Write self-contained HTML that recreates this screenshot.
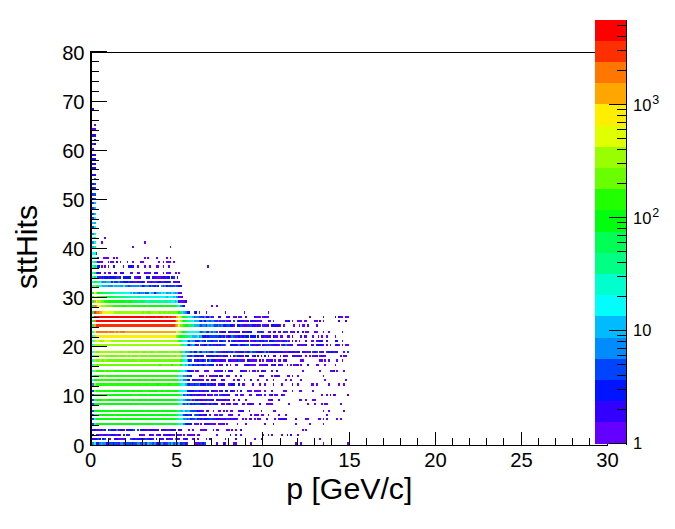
<!DOCTYPE html>
<html><head><meta charset="utf-8"><title>sttHits vs p</title>
<style>
html,body{margin:0;padding:0;background:#fff;}
#c{position:relative;width:675px;height:529px;overflow:hidden;background:#fff;font-family:"Liberation Sans",sans-serif;color:#000;}
.t{position:absolute;line-height:22px;white-space:nowrap;}
.e{font-size:12.5px;position:relative;top:-7.2px;left:1px;}
#xt,#yt{line-height:34px;}
</style></head><body><div id="c"><svg width="675" height="529" viewBox="0 0 675 529" style="position:absolute;left:0;top:0"><rect x="90" y="52" width="505" height="1"/><g shape-rendering="crispEdges"><rect x="104" y="237" width="2" height="2" fill="#6300ff"/><rect x="101" y="241" width="2" height="3" fill="#6300ff"/><rect x="144" y="241" width="2" height="3" fill="#6300ff"/><rect x="132" y="246" width="2" height="2" fill="#6300ff"/><rect x="170" y="246" width="1" height="2" fill="#6300ff"/><rect x="207" y="265" width="2" height="3" fill="#6300ff"/><rect x="103" y="257" width="6" height="2" fill="#6300ff"/><rect x="113" y="257" width="2" height="2" fill="#6300ff"/><rect x="116" y="257" width="2" height="2" fill="#6300ff"/><rect x="144" y="257" width="2" height="2" fill="#6300ff"/><rect x="147" y="257" width="2" height="2" fill="#6300ff"/><rect x="156" y="257" width="2" height="2" fill="#6300ff"/><rect x="166" y="257" width="2" height="2" fill="#6300ff"/><rect x="170" y="257" width="1" height="2" fill="#6300ff"/><rect x="99" y="261" width="4" height="2" fill="#6300ff"/><rect x="108" y="261" width="1" height="2" fill="#6300ff"/><rect x="110" y="261" width="4" height="2" fill="#6300ff"/><rect x="116" y="261" width="2" height="2" fill="#3300ff"/><rect x="120" y="261" width="1" height="2" fill="#6300ff"/><rect x="127" y="261" width="1" height="2" fill="#6300ff"/><rect x="132" y="261" width="2" height="2" fill="#6300ff"/><rect x="140" y="261" width="4" height="2" fill="#6300ff"/><rect x="158" y="261" width="2" height="2" fill="#6300ff"/><rect x="163" y="261" width="1" height="2" fill="#6300ff"/><rect x="166" y="261" width="5" height="2" fill="#6300ff"/><rect x="173" y="261" width="2" height="2" fill="#6300ff"/><rect x="99" y="265" width="1" height="3" fill="#3300ff"/><rect x="101" y="265" width="2" height="3" fill="#6300ff"/><rect x="104" y="265" width="2" height="3" fill="#6300ff"/><rect x="108" y="265" width="1" height="3" fill="#6300ff"/><rect x="113" y="265" width="2" height="3" fill="#0014ff"/><rect x="123" y="265" width="1" height="3" fill="#6300ff"/><rect x="128" y="265" width="3" height="3" fill="#0014ff"/><rect x="131" y="265" width="3" height="3" fill="#3300ff"/><rect x="137" y="265" width="2" height="3" fill="#6300ff"/><rect x="144" y="265" width="2" height="3" fill="#6300ff"/><rect x="149" y="265" width="2" height="3" fill="#6300ff"/><rect x="156" y="265" width="3" height="3" fill="#6300ff"/><rect x="163" y="265" width="1" height="3" fill="#6300ff"/><rect x="168" y="265" width="2" height="3" fill="#6300ff"/><rect x="97" y="272" width="4" height="2" fill="#3300ff"/><rect x="104" y="272" width="2" height="2" fill="#6300ff"/><rect x="108" y="272" width="3" height="2" fill="#6300ff"/><rect x="114" y="272" width="3" height="2" fill="#3300ff"/><rect x="120" y="272" width="4" height="2" fill="#3300ff"/><rect x="130" y="272" width="3" height="2" fill="#6300ff"/><rect x="137" y="272" width="3" height="2" fill="#6300ff"/><rect x="144" y="272" width="7" height="2" fill="#6300ff"/><rect x="154" y="272" width="4" height="2" fill="#3300ff"/><rect x="163" y="272" width="1" height="2" fill="#6300ff"/><rect x="166" y="272" width="5" height="2" fill="#6300ff"/><rect x="175" y="272" width="2" height="2" fill="#6300ff"/><rect x="178" y="272" width="2" height="2" fill="#6300ff"/><rect x="98" y="276" width="4" height="3" fill="#6300ff"/><rect x="102" y="276" width="1" height="3" fill="#3300ff"/><rect x="103" y="276" width="1" height="3" fill="#0044ff"/><rect x="104" y="276" width="4" height="3" fill="#0014ff"/><rect x="108" y="276" width="1" height="3" fill="#6300ff"/><rect x="109" y="276" width="2" height="3" fill="#0014ff"/><rect x="111" y="276" width="3" height="3" fill="#0014ff"/><rect x="114" y="276" width="2" height="3" fill="#3300ff"/><rect x="116" y="276" width="3" height="3" fill="#0044ff"/><rect x="119" y="276" width="1" height="3" fill="#6300ff"/><rect x="120" y="276" width="1" height="3" fill="#3300ff"/><rect x="123" y="276" width="4" height="3" fill="#0014ff"/><rect x="127" y="276" width="2" height="3" fill="#0014ff"/><rect x="129" y="276" width="2" height="3" fill="#0014ff"/><rect x="134" y="276" width="1" height="3" fill="#0044ff"/><rect x="135" y="276" width="3" height="3" fill="#6300ff"/><rect x="138" y="276" width="3" height="3" fill="#3300ff"/><rect x="146" y="276" width="2" height="3" fill="#0014ff"/><rect x="148" y="276" width="2" height="3" fill="#0014ff"/><rect x="152" y="276" width="4" height="3" fill="#3300ff"/><rect x="156" y="276" width="4" height="3" fill="#6300ff"/><rect x="160" y="276" width="1" height="3" fill="#6300ff"/><rect x="161" y="276" width="4" height="3" fill="#3300ff"/><rect x="165" y="276" width="1" height="3" fill="#3300ff"/><rect x="166" y="276" width="1" height="3" fill="#6300ff"/><rect x="167" y="276" width="3" height="3" fill="#0014ff"/><rect x="171" y="276" width="2" height="3" fill="#0014ff"/><rect x="173" y="276" width="1" height="3" fill="#0044ff"/><rect x="174" y="276" width="1" height="3" fill="#6300ff"/><rect x="177" y="276" width="1" height="3" fill="#0014ff"/><rect x="90" y="442" width="4" height="3" fill="#008bff"/><rect x="94" y="442" width="2" height="3" fill="#00fffc"/><rect x="96" y="442" width="3" height="3" fill="#0014ff"/><rect x="99" y="442" width="2" height="3" fill="#008bff"/><rect x="101" y="442" width="1" height="3" fill="#00bbff"/><rect x="102" y="442" width="4" height="3" fill="#008bff"/><rect x="106" y="442" width="2" height="3" fill="#3300ff"/><rect x="108" y="442" width="5" height="3" fill="#0044ff"/><rect x="113" y="442" width="1" height="3" fill="#3300ff"/><rect x="114" y="442" width="4" height="3" fill="#0044ff"/><rect x="118" y="442" width="2" height="3" fill="#6300ff"/><rect x="120" y="442" width="3" height="3" fill="#008bff"/><rect x="123" y="442" width="2" height="3" fill="#0044ff"/><rect x="125" y="442" width="1" height="3" fill="#008bff"/><rect x="126" y="442" width="6" height="3" fill="#0044ff"/><rect x="132" y="442" width="1" height="3" fill="#3300ff"/><rect x="133" y="442" width="4" height="3" fill="#0044ff"/><rect x="137" y="442" width="3" height="3" fill="#008bff"/><rect x="140" y="442" width="2" height="3" fill="#0044ff"/><rect x="142" y="442" width="3" height="3" fill="#008bff"/><rect x="145" y="442" width="2" height="3" fill="#0014ff"/><rect x="147" y="442" width="2" height="3" fill="#00bbff"/><rect x="149" y="442" width="3" height="3" fill="#008bff"/><rect x="152" y="442" width="2" height="3" fill="#0044ff"/><rect x="154" y="442" width="2" height="3" fill="#008bff"/><rect x="156" y="442" width="1" height="3" fill="#6300ff"/><rect x="157" y="442" width="2" height="3" fill="#0014ff"/><rect x="159" y="442" width="2" height="3" fill="#0044ff"/><rect x="161" y="442" width="2" height="3" fill="#008bff"/><rect x="163" y="442" width="1" height="3" fill="#0044ff"/><rect x="164" y="442" width="2" height="3" fill="#6300ff"/><rect x="166" y="442" width="2" height="3" fill="#0044ff"/><rect x="168" y="442" width="2" height="3" fill="#008bff"/><rect x="170" y="442" width="1" height="3" fill="#0044ff"/><rect x="171" y="442" width="2" height="3" fill="#00bbff"/><rect x="173" y="442" width="2" height="3" fill="#0044ff"/><rect x="175" y="442" width="1" height="3" fill="#008bff"/><rect x="176" y="442" width="2" height="3" fill="#0044ff"/><rect x="178" y="442" width="2" height="3" fill="#00bbff"/><rect x="180" y="442" width="2" height="3" fill="#0014ff"/><rect x="182" y="442" width="3" height="3" fill="#0044ff"/><rect x="185" y="442" width="2" height="3" fill="#3300ff"/><rect x="187" y="442" width="1" height="3" fill="#6300ff"/><rect x="194" y="442" width="1" height="3" fill="#3300ff"/><rect x="195" y="442" width="5" height="3" fill="#6300ff"/><rect x="200" y="442" width="2" height="3" fill="#0044ff"/><rect x="202" y="442" width="2" height="3" fill="#3300ff"/><rect x="204" y="442" width="2" height="3" fill="#0044ff"/><rect x="216" y="442" width="2" height="3" fill="#6300ff"/><rect x="223" y="442" width="2" height="3" fill="#3300ff"/><rect x="225" y="442" width="1" height="3" fill="#6300ff"/><rect x="233" y="442" width="4" height="3" fill="#6300ff"/><rect x="250" y="442" width="2" height="3" fill="#6300ff"/><rect x="295" y="442" width="2" height="3" fill="#6300ff"/><rect x="300" y="442" width="2" height="3" fill="#6300ff"/><rect x="323" y="442" width="1" height="3" fill="#6300ff"/><rect x="347" y="442" width="2" height="3" fill="#6300ff"/><rect x="90" y="438" width="6" height="2" fill="#3300ff"/><rect x="96" y="438" width="1" height="2" fill="#0014ff"/><rect x="97" y="438" width="2" height="2" fill="#0044ff"/><rect x="99" y="438" width="2" height="2" fill="#3300ff"/><rect x="102" y="438" width="2" height="2" fill="#0014ff"/><rect x="104" y="438" width="2" height="2" fill="#0044ff"/><rect x="109" y="438" width="2" height="2" fill="#6300ff"/><rect x="114" y="438" width="2" height="2" fill="#3300ff"/><rect x="116" y="438" width="2" height="2" fill="#0014ff"/><rect x="118" y="438" width="7" height="2" fill="#6300ff"/><rect x="125" y="438" width="1" height="2" fill="#3300ff"/><rect x="130" y="438" width="2" height="2" fill="#0044ff"/><rect x="132" y="438" width="1" height="2" fill="#6300ff"/><rect x="133" y="438" width="2" height="2" fill="#0014ff"/><rect x="135" y="438" width="2" height="2" fill="#6300ff"/><rect x="137" y="438" width="2" height="2" fill="#0014ff"/><rect x="139" y="438" width="5" height="2" fill="#3300ff"/><rect x="144" y="438" width="1" height="2" fill="#6300ff"/><rect x="145" y="438" width="2" height="2" fill="#0044ff"/><rect x="147" y="438" width="2" height="2" fill="#6300ff"/><rect x="149" y="438" width="3" height="2" fill="#0014ff"/><rect x="152" y="438" width="2" height="2" fill="#6300ff"/><rect x="156" y="438" width="1" height="2" fill="#0014ff"/><rect x="159" y="438" width="2" height="2" fill="#6300ff"/><rect x="161" y="438" width="2" height="2" fill="#3300ff"/><rect x="163" y="438" width="1" height="2" fill="#6300ff"/><rect x="166" y="438" width="2" height="2" fill="#3300ff"/><rect x="168" y="438" width="2" height="2" fill="#6300ff"/><rect x="170" y="438" width="1" height="2" fill="#3300ff"/><rect x="171" y="438" width="2" height="2" fill="#6300ff"/><rect x="175" y="438" width="1" height="2" fill="#008bff"/><rect x="176" y="438" width="2" height="2" fill="#3300ff"/><rect x="178" y="438" width="2" height="2" fill="#6300ff"/><rect x="183" y="438" width="2" height="2" fill="#6300ff"/><rect x="185" y="438" width="2" height="2" fill="#0014ff"/><rect x="187" y="438" width="1" height="2" fill="#6300ff"/><rect x="192" y="438" width="3" height="2" fill="#6300ff"/><rect x="197" y="438" width="2" height="2" fill="#6300ff"/><rect x="206" y="438" width="1" height="2" fill="#6300ff"/><rect x="209" y="438" width="2" height="2" fill="#3300ff"/><rect x="225" y="438" width="1" height="2" fill="#6300ff"/><rect x="235" y="438" width="2" height="2" fill="#3300ff"/><rect x="254" y="438" width="2" height="2" fill="#6300ff"/><rect x="261" y="438" width="1" height="2" fill="#3300ff"/><rect x="319" y="438" width="2" height="2" fill="#6300ff"/><rect x="90" y="434" width="4" height="2" fill="#3300ff"/><rect x="96" y="434" width="8" height="2" fill="#6300ff"/><rect x="104" y="434" width="2" height="2" fill="#3300ff"/><rect x="106" y="434" width="2" height="2" fill="#6300ff"/><rect x="108" y="434" width="1" height="2" fill="#0044ff"/><rect x="109" y="434" width="2" height="2" fill="#6300ff"/><rect x="111" y="434" width="2" height="2" fill="#0014ff"/><rect x="113" y="434" width="3" height="2" fill="#3300ff"/><rect x="116" y="434" width="2" height="2" fill="#6300ff"/><rect x="118" y="434" width="2" height="2" fill="#3300ff"/><rect x="120" y="434" width="1" height="2" fill="#6300ff"/><rect x="123" y="434" width="2" height="2" fill="#3300ff"/><rect x="126" y="434" width="2" height="2" fill="#0014ff"/><rect x="128" y="434" width="2" height="2" fill="#6300ff"/><rect x="139" y="434" width="1" height="2" fill="#3300ff"/><rect x="140" y="434" width="5" height="2" fill="#6300ff"/><rect x="149" y="434" width="2" height="2" fill="#3300ff"/><rect x="151" y="434" width="3" height="2" fill="#6300ff"/><rect x="156" y="434" width="3" height="2" fill="#6300ff"/><rect x="159" y="434" width="2" height="2" fill="#3300ff"/><rect x="163" y="434" width="1" height="2" fill="#6300ff"/><rect x="164" y="434" width="7" height="2" fill="#3300ff"/><rect x="171" y="434" width="4" height="2" fill="#6300ff"/><rect x="176" y="434" width="2" height="2" fill="#3300ff"/><rect x="178" y="434" width="4" height="2" fill="#6300ff"/><rect x="183" y="434" width="2" height="2" fill="#6300ff"/><rect x="187" y="434" width="7" height="2" fill="#6300ff"/><rect x="194" y="434" width="1" height="2" fill="#0014ff"/><rect x="197" y="434" width="3" height="2" fill="#6300ff"/><rect x="216" y="434" width="2" height="2" fill="#6300ff"/><rect x="230" y="434" width="1" height="2" fill="#3300ff"/><rect x="235" y="434" width="2" height="2" fill="#6300ff"/><rect x="240" y="434" width="2" height="2" fill="#6300ff"/><rect x="262" y="434" width="2" height="2" fill="#6300ff"/><rect x="268" y="434" width="1" height="2" fill="#6300ff"/><rect x="271" y="434" width="2" height="2" fill="#6300ff"/><rect x="281" y="434" width="2" height="2" fill="#6300ff"/><rect x="287" y="434" width="1" height="2" fill="#3300ff"/><rect x="290" y="434" width="2" height="2" fill="#3300ff"/><rect x="297" y="434" width="2" height="2" fill="#6300ff"/><rect x="90" y="429" width="4" height="2" fill="#3300ff"/><rect x="94" y="429" width="2" height="2" fill="#0014ff"/><rect x="96" y="429" width="1" height="2" fill="#6300ff"/><rect x="97" y="429" width="2" height="2" fill="#3300ff"/><rect x="99" y="429" width="2" height="2" fill="#6300ff"/><rect x="101" y="429" width="1" height="2" fill="#3300ff"/><rect x="102" y="429" width="2" height="2" fill="#0044ff"/><rect x="104" y="429" width="2" height="2" fill="#3300ff"/><rect x="108" y="429" width="1" height="2" fill="#0014ff"/><rect x="109" y="429" width="2" height="2" fill="#0044ff"/><rect x="111" y="429" width="2" height="2" fill="#3300ff"/><rect x="113" y="429" width="1" height="2" fill="#0014ff"/><rect x="114" y="429" width="2" height="2" fill="#3300ff"/><rect x="116" y="429" width="2" height="2" fill="#008bff"/><rect x="118" y="429" width="2" height="2" fill="#6300ff"/><rect x="120" y="429" width="1" height="2" fill="#0014ff"/><rect x="121" y="429" width="4" height="2" fill="#3300ff"/><rect x="126" y="429" width="4" height="2" fill="#3300ff"/><rect x="130" y="429" width="3" height="2" fill="#0014ff"/><rect x="133" y="429" width="2" height="2" fill="#0044ff"/><rect x="137" y="429" width="2" height="2" fill="#0044ff"/><rect x="140" y="429" width="4" height="2" fill="#0014ff"/><rect x="144" y="429" width="3" height="2" fill="#3300ff"/><rect x="147" y="429" width="2" height="2" fill="#6300ff"/><rect x="149" y="429" width="2" height="2" fill="#3300ff"/><rect x="151" y="429" width="1" height="2" fill="#0014ff"/><rect x="152" y="429" width="4" height="2" fill="#3300ff"/><rect x="156" y="429" width="1" height="2" fill="#6300ff"/><rect x="157" y="429" width="2" height="2" fill="#3300ff"/><rect x="161" y="429" width="2" height="2" fill="#3300ff"/><rect x="163" y="429" width="1" height="2" fill="#0014ff"/><rect x="164" y="429" width="2" height="2" fill="#3300ff"/><rect x="166" y="429" width="4" height="2" fill="#6300ff"/><rect x="170" y="429" width="3" height="2" fill="#0014ff"/><rect x="173" y="429" width="3" height="2" fill="#3300ff"/><rect x="178" y="429" width="4" height="2" fill="#3300ff"/><rect x="188" y="429" width="2" height="2" fill="#6300ff"/><rect x="192" y="429" width="2" height="2" fill="#6300ff"/><rect x="200" y="429" width="7" height="2" fill="#6300ff"/><rect x="213" y="429" width="1" height="2" fill="#6300ff"/><rect x="216" y="429" width="3" height="2" fill="#6300ff"/><rect x="226" y="429" width="4" height="2" fill="#6300ff"/><rect x="231" y="429" width="2" height="2" fill="#6300ff"/><rect x="235" y="429" width="2" height="2" fill="#6300ff"/><rect x="240" y="429" width="2" height="2" fill="#3300ff"/><rect x="302" y="429" width="2" height="2" fill="#6300ff"/><rect x="305" y="429" width="2" height="2" fill="#6300ff"/><rect x="90" y="423" width="4" height="2" fill="#0044ff"/><rect x="94" y="423" width="2" height="2" fill="#00ffcc"/><rect x="96" y="423" width="15" height="2" fill="#00ff0e"/><rect x="111" y="423" width="2" height="2" fill="#00ff55"/><rect x="113" y="423" width="26" height="2" fill="#00ff0e"/><rect x="139" y="423" width="1" height="2" fill="#00ff55"/><rect x="140" y="423" width="14" height="2" fill="#00ff0e"/><rect x="154" y="423" width="2" height="2" fill="#00ff55"/><rect x="156" y="423" width="1" height="2" fill="#00ff0e"/><rect x="157" y="423" width="2" height="2" fill="#00ff55"/><rect x="159" y="423" width="7" height="2" fill="#00ff0e"/><rect x="166" y="423" width="2" height="2" fill="#00ff55"/><rect x="168" y="423" width="2" height="2" fill="#00ff0e"/><rect x="170" y="423" width="1" height="2" fill="#00ff55"/><rect x="171" y="423" width="5" height="2" fill="#00ff0e"/><rect x="176" y="423" width="2" height="2" fill="#00ff55"/><rect x="178" y="423" width="4" height="2" fill="#00ffcc"/><rect x="182" y="423" width="1" height="2" fill="#00fffc"/><rect x="183" y="423" width="2" height="2" fill="#008bff"/><rect x="185" y="423" width="7" height="2" fill="#0014ff"/><rect x="194" y="423" width="5" height="2" fill="#6300ff"/><rect x="200" y="423" width="2" height="2" fill="#6300ff"/><rect x="204" y="423" width="2" height="2" fill="#3300ff"/><rect x="206" y="423" width="1" height="2" fill="#6300ff"/><rect x="207" y="423" width="2" height="2" fill="#3300ff"/><rect x="209" y="423" width="7" height="2" fill="#6300ff"/><rect x="218" y="423" width="7" height="2" fill="#6300ff"/><rect x="226" y="423" width="2" height="2" fill="#6300ff"/><rect x="237" y="423" width="1" height="2" fill="#6300ff"/><rect x="245" y="423" width="2" height="2" fill="#6300ff"/><rect x="264" y="423" width="2" height="2" fill="#6300ff"/><rect x="273" y="423" width="1" height="2" fill="#3300ff"/><rect x="295" y="423" width="2" height="2" fill="#6300ff"/><rect x="309" y="423" width="2" height="2" fill="#6300ff"/><rect x="323" y="423" width="1" height="2" fill="#6300ff"/><rect x="90" y="418" width="4" height="2" fill="#0044ff"/><rect x="94" y="418" width="2" height="2" fill="#00ffcc"/><rect x="96" y="418" width="15" height="2" fill="#00ff0e"/><rect x="111" y="418" width="2" height="2" fill="#22ff00"/><rect x="113" y="418" width="63" height="2" fill="#00ff0e"/><rect x="176" y="418" width="2" height="2" fill="#00ff55"/><rect x="178" y="418" width="4" height="2" fill="#00ffcc"/><rect x="182" y="418" width="1" height="2" fill="#00fffc"/><rect x="183" y="418" width="4" height="2" fill="#008bff"/><rect x="187" y="418" width="1" height="2" fill="#0044ff"/><rect x="188" y="418" width="2" height="2" fill="#008bff"/><rect x="190" y="418" width="2" height="2" fill="#0014ff"/><rect x="192" y="418" width="3" height="2" fill="#0044ff"/><rect x="195" y="418" width="2" height="2" fill="#008bff"/><rect x="197" y="418" width="2" height="2" fill="#3300ff"/><rect x="199" y="418" width="1" height="2" fill="#0044ff"/><rect x="200" y="418" width="2" height="2" fill="#0014ff"/><rect x="202" y="418" width="2" height="2" fill="#6300ff"/><rect x="204" y="418" width="5" height="2" fill="#0014ff"/><rect x="209" y="418" width="4" height="2" fill="#0044ff"/><rect x="213" y="418" width="1" height="2" fill="#3300ff"/><rect x="214" y="418" width="2" height="2" fill="#6300ff"/><rect x="216" y="418" width="2" height="2" fill="#0014ff"/><rect x="218" y="418" width="3" height="2" fill="#3300ff"/><rect x="221" y="418" width="2" height="2" fill="#6300ff"/><rect x="223" y="418" width="2" height="2" fill="#3300ff"/><rect x="225" y="418" width="1" height="2" fill="#6300ff"/><rect x="226" y="418" width="2" height="2" fill="#0044ff"/><rect x="228" y="418" width="2" height="2" fill="#6300ff"/><rect x="230" y="418" width="1" height="2" fill="#3300ff"/><rect x="231" y="418" width="2" height="2" fill="#6300ff"/><rect x="233" y="418" width="2" height="2" fill="#3300ff"/><rect x="235" y="418" width="3" height="2" fill="#6300ff"/><rect x="242" y="418" width="2" height="2" fill="#6300ff"/><rect x="245" y="418" width="2" height="2" fill="#6300ff"/><rect x="249" y="418" width="1" height="2" fill="#6300ff"/><rect x="250" y="418" width="2" height="2" fill="#3300ff"/><rect x="254" y="418" width="2" height="2" fill="#6300ff"/><rect x="257" y="418" width="4" height="2" fill="#6300ff"/><rect x="266" y="418" width="2" height="2" fill="#6300ff"/><rect x="274" y="418" width="2" height="2" fill="#6300ff"/><rect x="278" y="418" width="2" height="2" fill="#6300ff"/><rect x="280" y="418" width="7" height="2" fill="#3300ff"/><rect x="295" y="418" width="2" height="2" fill="#3300ff"/><rect x="305" y="418" width="4" height="2" fill="#6300ff"/><rect x="318" y="418" width="3" height="2" fill="#6300ff"/><rect x="323" y="418" width="1" height="2" fill="#6300ff"/><rect x="326" y="418" width="2" height="2" fill="#6300ff"/><rect x="336" y="418" width="2" height="2" fill="#6300ff"/><rect x="340" y="418" width="2" height="2" fill="#6300ff"/><rect x="90" y="414" width="4" height="2" fill="#0044ff"/><rect x="94" y="414" width="2" height="2" fill="#00ffcc"/><rect x="96" y="414" width="18" height="2" fill="#00ff0e"/><rect x="114" y="414" width="2" height="2" fill="#22ff00"/><rect x="116" y="414" width="40" height="2" fill="#00ff0e"/><rect x="156" y="414" width="1" height="2" fill="#00ff55"/><rect x="157" y="414" width="19" height="2" fill="#00ff0e"/><rect x="176" y="414" width="2" height="2" fill="#00ff55"/><rect x="178" y="414" width="4" height="2" fill="#00ffcc"/><rect x="182" y="414" width="1" height="2" fill="#00bbff"/><rect x="183" y="414" width="2" height="2" fill="#0044ff"/><rect x="185" y="414" width="3" height="2" fill="#0014ff"/><rect x="188" y="414" width="2" height="2" fill="#0044ff"/><rect x="190" y="414" width="2" height="2" fill="#0014ff"/><rect x="194" y="414" width="1" height="2" fill="#008bff"/><rect x="195" y="414" width="4" height="2" fill="#0044ff"/><rect x="199" y="414" width="3" height="2" fill="#3300ff"/><rect x="202" y="414" width="2" height="2" fill="#6300ff"/><rect x="204" y="414" width="3" height="2" fill="#0014ff"/><rect x="209" y="414" width="2" height="2" fill="#6300ff"/><rect x="214" y="414" width="4" height="2" fill="#6300ff"/><rect x="219" y="414" width="2" height="2" fill="#6300ff"/><rect x="221" y="414" width="2" height="2" fill="#0044ff"/><rect x="228" y="414" width="5" height="2" fill="#6300ff"/><rect x="238" y="414" width="2" height="2" fill="#6300ff"/><rect x="250" y="414" width="2" height="2" fill="#3300ff"/><rect x="254" y="414" width="5" height="2" fill="#6300ff"/><rect x="261" y="414" width="3" height="2" fill="#6300ff"/><rect x="268" y="414" width="1" height="2" fill="#6300ff"/><rect x="278" y="414" width="2" height="2" fill="#6300ff"/><rect x="285" y="414" width="2" height="2" fill="#6300ff"/><rect x="326" y="414" width="2" height="2" fill="#6300ff"/><rect x="90" y="410" width="4" height="2" fill="#0044ff"/><rect x="94" y="410" width="17" height="2" fill="#00ff0e"/><rect x="111" y="410" width="2" height="2" fill="#22ff00"/><rect x="113" y="410" width="31" height="2" fill="#00ff0e"/><rect x="144" y="410" width="1" height="2" fill="#22ff00"/><rect x="145" y="410" width="14" height="2" fill="#00ff0e"/><rect x="159" y="410" width="2" height="2" fill="#22ff00"/><rect x="161" y="410" width="15" height="2" fill="#00ff0e"/><rect x="176" y="410" width="2" height="2" fill="#00ff55"/><rect x="178" y="410" width="2" height="2" fill="#00ff85"/><rect x="180" y="410" width="3" height="2" fill="#00bbff"/><rect x="183" y="410" width="2" height="2" fill="#00fffc"/><rect x="185" y="410" width="2" height="2" fill="#008bff"/><rect x="187" y="410" width="3" height="2" fill="#00bbff"/><rect x="190" y="410" width="7" height="2" fill="#0044ff"/><rect x="197" y="410" width="5" height="2" fill="#3300ff"/><rect x="202" y="410" width="2" height="2" fill="#6300ff"/><rect x="206" y="410" width="1" height="2" fill="#6300ff"/><rect x="207" y="410" width="2" height="2" fill="#3300ff"/><rect x="213" y="410" width="1" height="2" fill="#6300ff"/><rect x="218" y="410" width="3" height="2" fill="#6300ff"/><rect x="223" y="410" width="2" height="2" fill="#6300ff"/><rect x="226" y="410" width="2" height="2" fill="#6300ff"/><rect x="230" y="410" width="3" height="2" fill="#6300ff"/><rect x="238" y="410" width="2" height="2" fill="#6300ff"/><rect x="240" y="410" width="4" height="2" fill="#3300ff"/><rect x="249" y="410" width="1" height="2" fill="#6300ff"/><rect x="261" y="410" width="1" height="2" fill="#6300ff"/><rect x="273" y="410" width="3" height="2" fill="#6300ff"/><rect x="323" y="410" width="1" height="2" fill="#6300ff"/><rect x="328" y="410" width="2" height="2" fill="#6300ff"/><rect x="343" y="410" width="2" height="2" fill="#6300ff"/><rect x="90" y="403" width="4" height="2" fill="#0044ff"/><rect x="94" y="403" width="8" height="2" fill="#00ff0e"/><rect x="102" y="403" width="2" height="2" fill="#22ff00"/><rect x="104" y="403" width="35" height="2" fill="#00ff0e"/><rect x="139" y="403" width="1" height="2" fill="#22ff00"/><rect x="140" y="403" width="38" height="2" fill="#00ff0e"/><rect x="178" y="403" width="2" height="2" fill="#00ff85"/><rect x="180" y="403" width="2" height="2" fill="#00fffc"/><rect x="182" y="403" width="1" height="2" fill="#00bbff"/><rect x="183" y="403" width="2" height="2" fill="#0044ff"/><rect x="185" y="403" width="2" height="2" fill="#008bff"/><rect x="187" y="403" width="1" height="2" fill="#0014ff"/><rect x="188" y="403" width="2" height="2" fill="#008bff"/><rect x="190" y="403" width="2" height="2" fill="#0014ff"/><rect x="192" y="403" width="2" height="2" fill="#0044ff"/><rect x="194" y="403" width="1" height="2" fill="#3300ff"/><rect x="195" y="403" width="5" height="2" fill="#0044ff"/><rect x="200" y="403" width="4" height="2" fill="#0014ff"/><rect x="204" y="403" width="2" height="2" fill="#3300ff"/><rect x="206" y="403" width="1" height="2" fill="#6300ff"/><rect x="207" y="403" width="2" height="2" fill="#0044ff"/><rect x="209" y="403" width="2" height="2" fill="#3300ff"/><rect x="211" y="403" width="2" height="2" fill="#0044ff"/><rect x="213" y="403" width="1" height="2" fill="#6300ff"/><rect x="214" y="403" width="2" height="2" fill="#0014ff"/><rect x="216" y="403" width="2" height="2" fill="#3300ff"/><rect x="221" y="403" width="2" height="2" fill="#3300ff"/><rect x="223" y="403" width="2" height="2" fill="#6300ff"/><rect x="226" y="403" width="2" height="2" fill="#6300ff"/><rect x="228" y="403" width="2" height="2" fill="#3300ff"/><rect x="230" y="403" width="1" height="2" fill="#6300ff"/><rect x="233" y="403" width="2" height="2" fill="#6300ff"/><rect x="235" y="403" width="2" height="2" fill="#3300ff"/><rect x="237" y="403" width="1" height="2" fill="#6300ff"/><rect x="242" y="403" width="3" height="2" fill="#6300ff"/><rect x="247" y="403" width="2" height="2" fill="#6300ff"/><rect x="249" y="403" width="3" height="2" fill="#3300ff"/><rect x="252" y="403" width="2" height="2" fill="#6300ff"/><rect x="259" y="403" width="2" height="2" fill="#3300ff"/><rect x="266" y="403" width="7" height="2" fill="#6300ff"/><rect x="288" y="403" width="2" height="2" fill="#6300ff"/><rect x="307" y="403" width="2" height="2" fill="#6300ff"/><rect x="314" y="403" width="2" height="2" fill="#6300ff"/><rect x="321" y="403" width="2" height="2" fill="#6300ff"/><rect x="324" y="403" width="4" height="2" fill="#6300ff"/><rect x="340" y="403" width="2" height="2" fill="#6300ff"/><rect x="90" y="399" width="4" height="2" fill="#0044ff"/><rect x="94" y="399" width="2" height="2" fill="#00ff55"/><rect x="96" y="399" width="1" height="2" fill="#22ff00"/><rect x="97" y="399" width="5" height="2" fill="#00ff0e"/><rect x="102" y="399" width="6" height="2" fill="#22ff00"/><rect x="108" y="399" width="22" height="2" fill="#00ff0e"/><rect x="130" y="399" width="2" height="2" fill="#22ff00"/><rect x="132" y="399" width="3" height="2" fill="#00ff0e"/><rect x="135" y="399" width="2" height="2" fill="#22ff00"/><rect x="137" y="399" width="10" height="2" fill="#00ff0e"/><rect x="147" y="399" width="2" height="2" fill="#22ff00"/><rect x="149" y="399" width="27" height="2" fill="#00ff0e"/><rect x="176" y="399" width="2" height="2" fill="#00ff55"/><rect x="178" y="399" width="2" height="2" fill="#00ff85"/><rect x="180" y="399" width="3" height="2" fill="#00fffc"/><rect x="183" y="399" width="2" height="2" fill="#00bbff"/><rect x="185" y="399" width="2" height="2" fill="#008bff"/><rect x="187" y="399" width="3" height="2" fill="#0044ff"/><rect x="190" y="399" width="2" height="2" fill="#008bff"/><rect x="192" y="399" width="2" height="2" fill="#6300ff"/><rect x="194" y="399" width="1" height="2" fill="#008bff"/><rect x="195" y="399" width="4" height="2" fill="#3300ff"/><rect x="199" y="399" width="1" height="2" fill="#6300ff"/><rect x="200" y="399" width="2" height="2" fill="#3300ff"/><rect x="202" y="399" width="4" height="2" fill="#6300ff"/><rect x="206" y="399" width="1" height="2" fill="#0014ff"/><rect x="207" y="399" width="2" height="2" fill="#0044ff"/><rect x="209" y="399" width="2" height="2" fill="#6300ff"/><rect x="211" y="399" width="3" height="2" fill="#3300ff"/><rect x="216" y="399" width="3" height="2" fill="#3300ff"/><rect x="219" y="399" width="2" height="2" fill="#6300ff"/><rect x="221" y="399" width="5" height="2" fill="#3300ff"/><rect x="226" y="399" width="2" height="2" fill="#6300ff"/><rect x="228" y="399" width="2" height="2" fill="#3300ff"/><rect x="233" y="399" width="2" height="2" fill="#6300ff"/><rect x="238" y="399" width="2" height="2" fill="#3300ff"/><rect x="245" y="399" width="2" height="2" fill="#6300ff"/><rect x="268" y="399" width="3" height="2" fill="#6300ff"/><rect x="271" y="399" width="2" height="2" fill="#3300ff"/><rect x="278" y="399" width="2" height="2" fill="#6300ff"/><rect x="299" y="399" width="3" height="2" fill="#6300ff"/><rect x="305" y="399" width="2" height="2" fill="#6300ff"/><rect x="312" y="399" width="4" height="2" fill="#6300ff"/><rect x="90" y="394" width="4" height="2" fill="#0044ff"/><rect x="94" y="394" width="2" height="2" fill="#00ff0e"/><rect x="96" y="394" width="1" height="2" fill="#22ff00"/><rect x="97" y="394" width="2" height="2" fill="#00ff0e"/><rect x="99" y="394" width="2" height="2" fill="#22ff00"/><rect x="101" y="394" width="1" height="2" fill="#00ff0e"/><rect x="102" y="394" width="4" height="2" fill="#22ff00"/><rect x="106" y="394" width="7" height="2" fill="#00ff0e"/><rect x="113" y="394" width="1" height="2" fill="#22ff00"/><rect x="114" y="394" width="19" height="2" fill="#00ff0e"/><rect x="133" y="394" width="4" height="2" fill="#22ff00"/><rect x="137" y="394" width="10" height="2" fill="#00ff0e"/><rect x="147" y="394" width="2" height="2" fill="#22ff00"/><rect x="149" y="394" width="31" height="2" fill="#00ff0e"/><rect x="180" y="394" width="2" height="2" fill="#00ff85"/><rect x="182" y="394" width="1" height="2" fill="#00ffcc"/><rect x="183" y="394" width="2" height="2" fill="#0044ff"/><rect x="185" y="394" width="2" height="2" fill="#008bff"/><rect x="187" y="394" width="1" height="2" fill="#3300ff"/><rect x="188" y="394" width="2" height="2" fill="#0044ff"/><rect x="190" y="394" width="2" height="2" fill="#0014ff"/><rect x="192" y="394" width="2" height="2" fill="#6300ff"/><rect x="194" y="394" width="1" height="2" fill="#3300ff"/><rect x="195" y="394" width="2" height="2" fill="#6300ff"/><rect x="197" y="394" width="3" height="2" fill="#0014ff"/><rect x="200" y="394" width="4" height="2" fill="#6300ff"/><rect x="204" y="394" width="2" height="2" fill="#3300ff"/><rect x="207" y="394" width="2" height="2" fill="#3300ff"/><rect x="209" y="394" width="4" height="2" fill="#6300ff"/><rect x="214" y="394" width="2" height="2" fill="#0044ff"/><rect x="216" y="394" width="2" height="2" fill="#6300ff"/><rect x="219" y="394" width="2" height="2" fill="#0044ff"/><rect x="221" y="394" width="2" height="2" fill="#6300ff"/><rect x="223" y="394" width="2" height="2" fill="#0014ff"/><rect x="225" y="394" width="1" height="2" fill="#6300ff"/><rect x="226" y="394" width="2" height="2" fill="#3300ff"/><rect x="228" y="394" width="2" height="2" fill="#6300ff"/><rect x="235" y="394" width="2" height="2" fill="#6300ff"/><rect x="237" y="394" width="1" height="2" fill="#0014ff"/><rect x="240" y="394" width="4" height="2" fill="#6300ff"/><rect x="249" y="394" width="1" height="2" fill="#3300ff"/><rect x="250" y="394" width="2" height="2" fill="#6300ff"/><rect x="256" y="394" width="3" height="2" fill="#3300ff"/><rect x="259" y="394" width="3" height="2" fill="#6300ff"/><rect x="264" y="394" width="2" height="2" fill="#6300ff"/><rect x="269" y="394" width="2" height="2" fill="#6300ff"/><rect x="271" y="394" width="2" height="2" fill="#0014ff"/><rect x="274" y="394" width="4" height="2" fill="#6300ff"/><rect x="281" y="394" width="2" height="2" fill="#3300ff"/><rect x="283" y="394" width="2" height="2" fill="#6300ff"/><rect x="321" y="394" width="2" height="2" fill="#6300ff"/><rect x="326" y="394" width="2" height="2" fill="#6300ff"/><rect x="330" y="394" width="1" height="2" fill="#3300ff"/><rect x="333" y="394" width="2" height="2" fill="#3300ff"/><rect x="335" y="394" width="1" height="2" fill="#6300ff"/><rect x="347" y="394" width="2" height="2" fill="#3300ff"/><rect x="90" y="390" width="4" height="2" fill="#0044ff"/><rect x="94" y="390" width="2" height="2" fill="#69ff00"/><rect x="96" y="390" width="1" height="2" fill="#00ff0e"/><rect x="97" y="390" width="2" height="2" fill="#22ff00"/><rect x="99" y="390" width="2" height="2" fill="#00ff0e"/><rect x="101" y="390" width="3" height="2" fill="#22ff00"/><rect x="104" y="390" width="2" height="2" fill="#00ff0e"/><rect x="106" y="390" width="2" height="2" fill="#22ff00"/><rect x="108" y="390" width="1" height="2" fill="#00ff0e"/><rect x="109" y="390" width="4" height="2" fill="#22ff00"/><rect x="113" y="390" width="17" height="2" fill="#00ff0e"/><rect x="130" y="390" width="2" height="2" fill="#22ff00"/><rect x="132" y="390" width="3" height="2" fill="#00ff0e"/><rect x="135" y="390" width="2" height="2" fill="#22ff00"/><rect x="137" y="390" width="2" height="2" fill="#00ff0e"/><rect x="139" y="390" width="1" height="2" fill="#22ff00"/><rect x="140" y="390" width="2" height="2" fill="#00ff0e"/><rect x="142" y="390" width="7" height="2" fill="#22ff00"/><rect x="149" y="390" width="2" height="2" fill="#00ff0e"/><rect x="151" y="390" width="1" height="2" fill="#22ff00"/><rect x="152" y="390" width="5" height="2" fill="#00ff0e"/><rect x="157" y="390" width="4" height="2" fill="#22ff00"/><rect x="161" y="390" width="2" height="2" fill="#00ff0e"/><rect x="163" y="390" width="3" height="2" fill="#22ff00"/><rect x="166" y="390" width="5" height="2" fill="#00ff0e"/><rect x="171" y="390" width="2" height="2" fill="#22ff00"/><rect x="173" y="390" width="5" height="2" fill="#00ff0e"/><rect x="178" y="390" width="2" height="2" fill="#00ff85"/><rect x="180" y="390" width="7" height="2" fill="#00fffc"/><rect x="187" y="390" width="3" height="2" fill="#3300ff"/><rect x="190" y="390" width="4" height="2" fill="#0014ff"/><rect x="194" y="390" width="1" height="2" fill="#0044ff"/><rect x="195" y="390" width="2" height="2" fill="#6300ff"/><rect x="197" y="390" width="2" height="2" fill="#0044ff"/><rect x="199" y="390" width="1" height="2" fill="#3300ff"/><rect x="200" y="390" width="2" height="2" fill="#6300ff"/><rect x="202" y="390" width="2" height="2" fill="#3300ff"/><rect x="204" y="390" width="2" height="2" fill="#6300ff"/><rect x="206" y="390" width="1" height="2" fill="#0044ff"/><rect x="207" y="390" width="2" height="2" fill="#0014ff"/><rect x="211" y="390" width="2" height="2" fill="#0014ff"/><rect x="213" y="390" width="1" height="2" fill="#3300ff"/><rect x="214" y="390" width="4" height="2" fill="#6300ff"/><rect x="219" y="390" width="2" height="2" fill="#6300ff"/><rect x="221" y="390" width="2" height="2" fill="#0014ff"/><rect x="225" y="390" width="1" height="2" fill="#3300ff"/><rect x="226" y="390" width="2" height="2" fill="#0014ff"/><rect x="230" y="390" width="1" height="2" fill="#3300ff"/><rect x="231" y="390" width="2" height="2" fill="#0014ff"/><rect x="233" y="390" width="2" height="2" fill="#6300ff"/><rect x="237" y="390" width="1" height="2" fill="#6300ff"/><rect x="240" y="390" width="2" height="2" fill="#0014ff"/><rect x="247" y="390" width="5" height="2" fill="#6300ff"/><rect x="254" y="390" width="7" height="2" fill="#6300ff"/><rect x="264" y="390" width="2" height="2" fill="#6300ff"/><rect x="271" y="390" width="2" height="2" fill="#6300ff"/><rect x="283" y="390" width="4" height="2" fill="#6300ff"/><rect x="292" y="390" width="1" height="2" fill="#6300ff"/><rect x="299" y="390" width="3" height="2" fill="#6300ff"/><rect x="312" y="390" width="2" height="2" fill="#6300ff"/><rect x="90" y="383" width="4" height="3" fill="#008bff"/><rect x="94" y="383" width="2" height="3" fill="#99ff00"/><rect x="96" y="383" width="61" height="3" fill="#22ff00"/><rect x="157" y="383" width="2" height="3" fill="#00ff0e"/><rect x="159" y="383" width="9" height="3" fill="#22ff00"/><rect x="168" y="383" width="2" height="3" fill="#00ff0e"/><rect x="170" y="383" width="8" height="3" fill="#22ff00"/><rect x="178" y="383" width="2" height="3" fill="#00ff55"/><rect x="180" y="383" width="3" height="3" fill="#00ffcc"/><rect x="183" y="383" width="2" height="3" fill="#00fffc"/><rect x="185" y="383" width="2" height="3" fill="#00bbff"/><rect x="187" y="383" width="1" height="3" fill="#0044ff"/><rect x="188" y="383" width="2" height="3" fill="#3300ff"/><rect x="190" y="383" width="4" height="3" fill="#0044ff"/><rect x="194" y="383" width="1" height="3" fill="#0014ff"/><rect x="195" y="383" width="4" height="3" fill="#0044ff"/><rect x="199" y="383" width="1" height="3" fill="#008bff"/><rect x="200" y="383" width="2" height="3" fill="#3300ff"/><rect x="202" y="383" width="2" height="3" fill="#0014ff"/><rect x="204" y="383" width="2" height="3" fill="#3300ff"/><rect x="206" y="383" width="1" height="3" fill="#008bff"/><rect x="207" y="383" width="2" height="3" fill="#0014ff"/><rect x="209" y="383" width="2" height="3" fill="#0044ff"/><rect x="211" y="383" width="2" height="3" fill="#3300ff"/><rect x="213" y="383" width="1" height="3" fill="#6300ff"/><rect x="214" y="383" width="2" height="3" fill="#3300ff"/><rect x="218" y="383" width="1" height="3" fill="#3300ff"/><rect x="219" y="383" width="2" height="3" fill="#6300ff"/><rect x="221" y="383" width="2" height="3" fill="#0014ff"/><rect x="223" y="383" width="2" height="3" fill="#3300ff"/><rect x="228" y="383" width="3" height="3" fill="#6300ff"/><rect x="231" y="383" width="4" height="3" fill="#0014ff"/><rect x="238" y="383" width="2" height="3" fill="#0014ff"/><rect x="242" y="383" width="3" height="3" fill="#6300ff"/><rect x="252" y="383" width="2" height="3" fill="#6300ff"/><rect x="259" y="383" width="2" height="3" fill="#6300ff"/><rect x="264" y="383" width="2" height="3" fill="#6300ff"/><rect x="273" y="383" width="1" height="3" fill="#6300ff"/><rect x="281" y="383" width="2" height="3" fill="#6300ff"/><rect x="292" y="383" width="1" height="3" fill="#3300ff"/><rect x="297" y="383" width="2" height="3" fill="#6300ff"/><rect x="311" y="383" width="3" height="3" fill="#6300ff"/><rect x="316" y="383" width="2" height="3" fill="#6300ff"/><rect x="328" y="383" width="2" height="3" fill="#6300ff"/><rect x="338" y="383" width="2" height="3" fill="#6300ff"/><rect x="343" y="383" width="2" height="3" fill="#6300ff"/><rect x="90" y="379" width="4" height="2" fill="#00fffc"/><rect x="94" y="379" width="3" height="2" fill="#00ff0e"/><rect x="97" y="379" width="21" height="2" fill="#22ff00"/><rect x="118" y="379" width="2" height="2" fill="#00ff0e"/><rect x="120" y="379" width="19" height="2" fill="#22ff00"/><rect x="139" y="379" width="1" height="2" fill="#00ff0e"/><rect x="140" y="379" width="4" height="2" fill="#22ff00"/><rect x="144" y="379" width="1" height="2" fill="#00ff0e"/><rect x="145" y="379" width="7" height="2" fill="#22ff00"/><rect x="152" y="379" width="2" height="2" fill="#00ff0e"/><rect x="154" y="379" width="19" height="2" fill="#22ff00"/><rect x="173" y="379" width="2" height="2" fill="#00ff0e"/><rect x="175" y="379" width="3" height="2" fill="#22ff00"/><rect x="178" y="379" width="5" height="2" fill="#00ffcc"/><rect x="183" y="379" width="4" height="2" fill="#008bff"/><rect x="187" y="379" width="1" height="2" fill="#6300ff"/><rect x="188" y="379" width="2" height="2" fill="#0014ff"/><rect x="192" y="379" width="3" height="2" fill="#3300ff"/><rect x="195" y="379" width="4" height="2" fill="#6300ff"/><rect x="199" y="379" width="1" height="2" fill="#0014ff"/><rect x="200" y="379" width="4" height="2" fill="#6300ff"/><rect x="206" y="379" width="3" height="2" fill="#6300ff"/><rect x="211" y="379" width="2" height="2" fill="#3300ff"/><rect x="213" y="379" width="1" height="2" fill="#6300ff"/><rect x="214" y="379" width="2" height="2" fill="#3300ff"/><rect x="221" y="379" width="2" height="2" fill="#3300ff"/><rect x="223" y="379" width="2" height="2" fill="#6300ff"/><rect x="233" y="379" width="2" height="2" fill="#6300ff"/><rect x="237" y="379" width="1" height="2" fill="#3300ff"/><rect x="238" y="379" width="2" height="2" fill="#6300ff"/><rect x="244" y="379" width="1" height="2" fill="#6300ff"/><rect x="250" y="379" width="2" height="2" fill="#3300ff"/><rect x="257" y="379" width="2" height="2" fill="#6300ff"/><rect x="266" y="379" width="2" height="2" fill="#6300ff"/><rect x="273" y="379" width="1" height="2" fill="#6300ff"/><rect x="285" y="379" width="2" height="2" fill="#6300ff"/><rect x="290" y="379" width="2" height="2" fill="#6300ff"/><rect x="300" y="379" width="2" height="2" fill="#6300ff"/><rect x="324" y="379" width="2" height="2" fill="#6300ff"/><rect x="345" y="379" width="2" height="2" fill="#6300ff"/><rect x="90" y="375" width="4" height="2" fill="#00fffc"/><rect x="94" y="375" width="2" height="2" fill="#00ff0e"/><rect x="96" y="375" width="8" height="2" fill="#22ff00"/><rect x="104" y="375" width="2" height="2" fill="#69ff00"/><rect x="106" y="375" width="70" height="2" fill="#22ff00"/><rect x="176" y="375" width="2" height="2" fill="#00ff55"/><rect x="178" y="375" width="2" height="2" fill="#00ffcc"/><rect x="180" y="375" width="3" height="2" fill="#00fffc"/><rect x="183" y="375" width="4" height="2" fill="#008bff"/><rect x="187" y="375" width="1" height="2" fill="#6300ff"/><rect x="188" y="375" width="2" height="2" fill="#0044ff"/><rect x="190" y="375" width="2" height="2" fill="#0014ff"/><rect x="199" y="375" width="1" height="2" fill="#3300ff"/><rect x="200" y="375" width="4" height="2" fill="#6300ff"/><rect x="206" y="375" width="1" height="2" fill="#6300ff"/><rect x="209" y="375" width="7" height="2" fill="#6300ff"/><rect x="216" y="375" width="2" height="2" fill="#0014ff"/><rect x="219" y="375" width="2" height="2" fill="#0014ff"/><rect x="221" y="375" width="2" height="2" fill="#3300ff"/><rect x="226" y="375" width="4" height="2" fill="#6300ff"/><rect x="235" y="375" width="2" height="2" fill="#6300ff"/><rect x="240" y="375" width="2" height="2" fill="#0014ff"/><rect x="259" y="375" width="2" height="2" fill="#3300ff"/><rect x="261" y="375" width="3" height="2" fill="#6300ff"/><rect x="271" y="375" width="2" height="2" fill="#6300ff"/><rect x="274" y="375" width="2" height="2" fill="#6300ff"/><rect x="276" y="375" width="2" height="2" fill="#3300ff"/><rect x="278" y="375" width="2" height="2" fill="#6300ff"/><rect x="287" y="375" width="3" height="2" fill="#6300ff"/><rect x="292" y="375" width="1" height="2" fill="#6300ff"/><rect x="297" y="375" width="2" height="2" fill="#6300ff"/><rect x="323" y="375" width="1" height="2" fill="#6300ff"/><rect x="90" y="370" width="4" height="2" fill="#00fffc"/><rect x="94" y="370" width="2" height="2" fill="#99ff00"/><rect x="96" y="370" width="8" height="2" fill="#22ff00"/><rect x="104" y="370" width="2" height="2" fill="#69ff00"/><rect x="106" y="370" width="2" height="2" fill="#22ff00"/><rect x="108" y="370" width="1" height="2" fill="#69ff00"/><rect x="109" y="370" width="2" height="2" fill="#22ff00"/><rect x="111" y="370" width="2" height="2" fill="#69ff00"/><rect x="113" y="370" width="65" height="2" fill="#22ff00"/><rect x="178" y="370" width="2" height="2" fill="#00ff55"/><rect x="180" y="370" width="2" height="2" fill="#00ffcc"/><rect x="182" y="370" width="3" height="2" fill="#00fffc"/><rect x="185" y="370" width="2" height="2" fill="#00bbff"/><rect x="187" y="370" width="1" height="2" fill="#6300ff"/><rect x="188" y="370" width="4" height="2" fill="#0014ff"/><rect x="192" y="370" width="2" height="2" fill="#6300ff"/><rect x="195" y="370" width="4" height="2" fill="#6300ff"/><rect x="204" y="370" width="5" height="2" fill="#6300ff"/><rect x="214" y="370" width="4" height="2" fill="#6300ff"/><rect x="218" y="370" width="1" height="2" fill="#3300ff"/><rect x="219" y="370" width="2" height="2" fill="#6300ff"/><rect x="221" y="370" width="2" height="2" fill="#3300ff"/><rect x="225" y="370" width="1" height="2" fill="#0044ff"/><rect x="228" y="370" width="2" height="2" fill="#3300ff"/><rect x="230" y="370" width="1" height="2" fill="#6300ff"/><rect x="231" y="370" width="2" height="2" fill="#3300ff"/><rect x="240" y="370" width="4" height="2" fill="#3300ff"/><rect x="244" y="370" width="3" height="2" fill="#6300ff"/><rect x="249" y="370" width="1" height="2" fill="#6300ff"/><rect x="252" y="370" width="4" height="2" fill="#6300ff"/><rect x="257" y="370" width="2" height="2" fill="#6300ff"/><rect x="261" y="370" width="3" height="2" fill="#3300ff"/><rect x="264" y="370" width="2" height="2" fill="#6300ff"/><rect x="271" y="370" width="2" height="2" fill="#6300ff"/><rect x="276" y="370" width="2" height="2" fill="#0014ff"/><rect x="302" y="370" width="2" height="2" fill="#6300ff"/><rect x="319" y="370" width="2" height="2" fill="#6300ff"/><rect x="330" y="370" width="3" height="2" fill="#6300ff"/><rect x="333" y="370" width="2" height="2" fill="#3300ff"/><rect x="336" y="370" width="2" height="2" fill="#6300ff"/><rect x="343" y="370" width="2" height="2" fill="#6300ff"/><rect x="90" y="364" width="4" height="2" fill="#00fffc"/><rect x="94" y="364" width="2" height="2" fill="#99ff00"/><rect x="96" y="364" width="63" height="2" fill="#69ff00"/><rect x="159" y="364" width="2" height="2" fill="#22ff00"/><rect x="161" y="364" width="10" height="2" fill="#69ff00"/><rect x="171" y="364" width="2" height="2" fill="#22ff00"/><rect x="173" y="364" width="7" height="2" fill="#69ff00"/><rect x="180" y="364" width="2" height="2" fill="#00ff0e"/><rect x="182" y="364" width="3" height="2" fill="#00ffcc"/><rect x="185" y="364" width="2" height="2" fill="#00bbff"/><rect x="187" y="364" width="1" height="2" fill="#00fffc"/><rect x="188" y="364" width="2" height="2" fill="#0044ff"/><rect x="190" y="364" width="2" height="2" fill="#008bff"/><rect x="192" y="364" width="2" height="2" fill="#0014ff"/><rect x="194" y="364" width="3" height="2" fill="#0044ff"/><rect x="197" y="364" width="2" height="2" fill="#3300ff"/><rect x="199" y="364" width="3" height="2" fill="#0044ff"/><rect x="202" y="364" width="2" height="2" fill="#0014ff"/><rect x="204" y="364" width="2" height="2" fill="#6300ff"/><rect x="206" y="364" width="1" height="2" fill="#008bff"/><rect x="207" y="364" width="2" height="2" fill="#0044ff"/><rect x="209" y="364" width="5" height="2" fill="#0014ff"/><rect x="216" y="364" width="2" height="2" fill="#6300ff"/><rect x="219" y="364" width="2" height="2" fill="#3300ff"/><rect x="221" y="364" width="2" height="2" fill="#6300ff"/><rect x="226" y="364" width="2" height="2" fill="#0014ff"/><rect x="230" y="364" width="1" height="2" fill="#6300ff"/><rect x="235" y="364" width="2" height="2" fill="#6300ff"/><rect x="237" y="364" width="1" height="2" fill="#3300ff"/><rect x="244" y="364" width="1" height="2" fill="#6300ff"/><rect x="245" y="364" width="2" height="2" fill="#3300ff"/><rect x="247" y="364" width="2" height="2" fill="#0014ff"/><rect x="249" y="364" width="7" height="2" fill="#6300ff"/><rect x="259" y="364" width="5" height="2" fill="#6300ff"/><rect x="264" y="364" width="4" height="2" fill="#3300ff"/><rect x="271" y="364" width="2" height="2" fill="#3300ff"/><rect x="273" y="364" width="1" height="2" fill="#6300ff"/><rect x="274" y="364" width="2" height="2" fill="#0014ff"/><rect x="278" y="364" width="3" height="2" fill="#3300ff"/><rect x="281" y="364" width="2" height="2" fill="#6300ff"/><rect x="287" y="364" width="1" height="2" fill="#3300ff"/><rect x="290" y="364" width="2" height="2" fill="#6300ff"/><rect x="293" y="364" width="4" height="2" fill="#6300ff"/><rect x="297" y="364" width="2" height="2" fill="#3300ff"/><rect x="300" y="364" width="2" height="2" fill="#6300ff"/><rect x="307" y="364" width="2" height="2" fill="#0014ff"/><rect x="316" y="364" width="3" height="2" fill="#6300ff"/><rect x="324" y="364" width="2" height="2" fill="#6300ff"/><rect x="335" y="364" width="1" height="2" fill="#6300ff"/><rect x="90" y="359" width="4" height="3" fill="#00fffc"/><rect x="94" y="359" width="2" height="3" fill="#99ff00"/><rect x="96" y="359" width="3" height="3" fill="#69ff00"/><rect x="99" y="359" width="2" height="3" fill="#99ff00"/><rect x="101" y="359" width="3" height="3" fill="#69ff00"/><rect x="104" y="359" width="2" height="3" fill="#99ff00"/><rect x="106" y="359" width="31" height="3" fill="#69ff00"/><rect x="137" y="359" width="2" height="3" fill="#99ff00"/><rect x="139" y="359" width="41" height="3" fill="#69ff00"/><rect x="180" y="359" width="2" height="3" fill="#22ff00"/><rect x="182" y="359" width="1" height="3" fill="#00ff85"/><rect x="183" y="359" width="2" height="3" fill="#00ffcc"/><rect x="185" y="359" width="2" height="3" fill="#00fffc"/><rect x="187" y="359" width="1" height="3" fill="#00bbff"/><rect x="188" y="359" width="2" height="3" fill="#3300ff"/><rect x="190" y="359" width="2" height="3" fill="#0044ff"/><rect x="194" y="359" width="1" height="3" fill="#0014ff"/><rect x="195" y="359" width="2" height="3" fill="#6300ff"/><rect x="197" y="359" width="2" height="3" fill="#0014ff"/><rect x="199" y="359" width="1" height="3" fill="#0044ff"/><rect x="200" y="359" width="2" height="3" fill="#6300ff"/><rect x="202" y="359" width="2" height="3" fill="#0014ff"/><rect x="204" y="359" width="2" height="3" fill="#0044ff"/><rect x="207" y="359" width="2" height="3" fill="#3300ff"/><rect x="209" y="359" width="2" height="3" fill="#008bff"/><rect x="211" y="359" width="3" height="3" fill="#0014ff"/><rect x="214" y="359" width="2" height="3" fill="#3300ff"/><rect x="216" y="359" width="3" height="3" fill="#6300ff"/><rect x="219" y="359" width="4" height="3" fill="#3300ff"/><rect x="223" y="359" width="3" height="3" fill="#6300ff"/><rect x="228" y="359" width="3" height="3" fill="#3300ff"/><rect x="231" y="359" width="6" height="3" fill="#6300ff"/><rect x="237" y="359" width="1" height="3" fill="#3300ff"/><rect x="238" y="359" width="2" height="3" fill="#0044ff"/><rect x="240" y="359" width="5" height="3" fill="#6300ff"/><rect x="247" y="359" width="2" height="3" fill="#0014ff"/><rect x="249" y="359" width="1" height="3" fill="#3300ff"/><rect x="250" y="359" width="7" height="3" fill="#6300ff"/><rect x="259" y="359" width="2" height="3" fill="#3300ff"/><rect x="262" y="359" width="2" height="3" fill="#6300ff"/><rect x="266" y="359" width="5" height="3" fill="#6300ff"/><rect x="271" y="359" width="2" height="3" fill="#3300ff"/><rect x="274" y="359" width="2" height="3" fill="#6300ff"/><rect x="278" y="359" width="2" height="3" fill="#6300ff"/><rect x="280" y="359" width="1" height="3" fill="#3300ff"/><rect x="283" y="359" width="2" height="3" fill="#6300ff"/><rect x="285" y="359" width="2" height="3" fill="#3300ff"/><rect x="300" y="359" width="4" height="3" fill="#6300ff"/><rect x="319" y="359" width="4" height="3" fill="#6300ff"/><rect x="324" y="359" width="2" height="3" fill="#6300ff"/><rect x="328" y="359" width="2" height="3" fill="#6300ff"/><rect x="336" y="359" width="2" height="3" fill="#6300ff"/><rect x="342" y="359" width="1" height="3" fill="#6300ff"/><rect x="90" y="355" width="4" height="2" fill="#00fffc"/><rect x="94" y="355" width="12" height="2" fill="#99ff00"/><rect x="106" y="355" width="2" height="2" fill="#69ff00"/><rect x="108" y="355" width="1" height="2" fill="#99ff00"/><rect x="109" y="355" width="9" height="2" fill="#69ff00"/><rect x="118" y="355" width="2" height="2" fill="#99ff00"/><rect x="120" y="355" width="6" height="2" fill="#69ff00"/><rect x="126" y="355" width="2" height="2" fill="#99ff00"/><rect x="128" y="355" width="2" height="2" fill="#69ff00"/><rect x="130" y="355" width="2" height="2" fill="#99ff00"/><rect x="132" y="355" width="5" height="2" fill="#69ff00"/><rect x="137" y="355" width="3" height="2" fill="#99ff00"/><rect x="140" y="355" width="4" height="2" fill="#69ff00"/><rect x="144" y="355" width="1" height="2" fill="#99ff00"/><rect x="145" y="355" width="2" height="2" fill="#69ff00"/><rect x="147" y="355" width="2" height="2" fill="#99ff00"/><rect x="149" y="355" width="22" height="2" fill="#69ff00"/><rect x="171" y="355" width="2" height="2" fill="#99ff00"/><rect x="173" y="355" width="3" height="2" fill="#69ff00"/><rect x="176" y="355" width="4" height="2" fill="#99ff00"/><rect x="180" y="355" width="2" height="2" fill="#69ff00"/><rect x="182" y="355" width="1" height="2" fill="#00ff0e"/><rect x="183" y="355" width="4" height="2" fill="#00ffcc"/><rect x="187" y="355" width="3" height="2" fill="#0044ff"/><rect x="190" y="355" width="2" height="2" fill="#6300ff"/><rect x="192" y="355" width="2" height="2" fill="#008bff"/><rect x="194" y="355" width="1" height="2" fill="#3300ff"/><rect x="195" y="355" width="4" height="2" fill="#0014ff"/><rect x="199" y="355" width="1" height="2" fill="#6300ff"/><rect x="200" y="355" width="4" height="2" fill="#0014ff"/><rect x="206" y="355" width="1" height="2" fill="#6300ff"/><rect x="207" y="355" width="2" height="2" fill="#0014ff"/><rect x="209" y="355" width="2" height="2" fill="#3300ff"/><rect x="211" y="355" width="3" height="2" fill="#0014ff"/><rect x="214" y="355" width="2" height="2" fill="#6300ff"/><rect x="216" y="355" width="2" height="2" fill="#0014ff"/><rect x="218" y="355" width="3" height="2" fill="#6300ff"/><rect x="221" y="355" width="2" height="2" fill="#0044ff"/><rect x="223" y="355" width="2" height="2" fill="#0014ff"/><rect x="225" y="355" width="1" height="2" fill="#6300ff"/><rect x="226" y="355" width="2" height="2" fill="#3300ff"/><rect x="230" y="355" width="1" height="2" fill="#6300ff"/><rect x="233" y="355" width="2" height="2" fill="#3300ff"/><rect x="235" y="355" width="2" height="2" fill="#008bff"/><rect x="237" y="355" width="3" height="2" fill="#0014ff"/><rect x="240" y="355" width="2" height="2" fill="#3300ff"/><rect x="242" y="355" width="2" height="2" fill="#6300ff"/><rect x="245" y="355" width="2" height="2" fill="#3300ff"/><rect x="247" y="355" width="2" height="2" fill="#0014ff"/><rect x="252" y="355" width="2" height="2" fill="#6300ff"/><rect x="254" y="355" width="2" height="2" fill="#0014ff"/><rect x="257" y="355" width="2" height="2" fill="#3300ff"/><rect x="261" y="355" width="1" height="2" fill="#3300ff"/><rect x="264" y="355" width="2" height="2" fill="#0014ff"/><rect x="268" y="355" width="1" height="2" fill="#6300ff"/><rect x="273" y="355" width="1" height="2" fill="#6300ff"/><rect x="274" y="355" width="2" height="2" fill="#3300ff"/><rect x="280" y="355" width="1" height="2" fill="#3300ff"/><rect x="283" y="355" width="2" height="2" fill="#3300ff"/><rect x="285" y="355" width="3" height="2" fill="#6300ff"/><rect x="292" y="355" width="3" height="2" fill="#3300ff"/><rect x="295" y="355" width="2" height="2" fill="#6300ff"/><rect x="297" y="355" width="2" height="2" fill="#3300ff"/><rect x="299" y="355" width="3" height="2" fill="#6300ff"/><rect x="305" y="355" width="2" height="2" fill="#6300ff"/><rect x="309" y="355" width="2" height="2" fill="#6300ff"/><rect x="312" y="355" width="4" height="2" fill="#6300ff"/><rect x="316" y="355" width="2" height="2" fill="#3300ff"/><rect x="319" y="355" width="2" height="2" fill="#6300ff"/><rect x="321" y="355" width="3" height="2" fill="#3300ff"/><rect x="324" y="355" width="2" height="2" fill="#6300ff"/><rect x="340" y="355" width="2" height="2" fill="#6300ff"/><rect x="343" y="355" width="4" height="2" fill="#6300ff"/><rect x="90" y="351" width="4" height="2" fill="#00fffc"/><rect x="94" y="351" width="2" height="2" fill="#99ff00"/><rect x="96" y="351" width="3" height="2" fill="#69ff00"/><rect x="99" y="351" width="21" height="2" fill="#99ff00"/><rect x="120" y="351" width="1" height="2" fill="#69ff00"/><rect x="121" y="351" width="7" height="2" fill="#99ff00"/><rect x="128" y="351" width="2" height="2" fill="#69ff00"/><rect x="130" y="351" width="2" height="2" fill="#99ff00"/><rect x="132" y="351" width="1" height="2" fill="#69ff00"/><rect x="133" y="351" width="2" height="2" fill="#99ff00"/><rect x="135" y="351" width="2" height="2" fill="#69ff00"/><rect x="137" y="351" width="2" height="2" fill="#99ff00"/><rect x="139" y="351" width="1" height="2" fill="#69ff00"/><rect x="140" y="351" width="2" height="2" fill="#99ff00"/><rect x="142" y="351" width="5" height="2" fill="#69ff00"/><rect x="147" y="351" width="2" height="2" fill="#99ff00"/><rect x="149" y="351" width="5" height="2" fill="#69ff00"/><rect x="154" y="351" width="2" height="2" fill="#99ff00"/><rect x="156" y="351" width="1" height="2" fill="#69ff00"/><rect x="157" y="351" width="2" height="2" fill="#99ff00"/><rect x="159" y="351" width="4" height="2" fill="#69ff00"/><rect x="163" y="351" width="1" height="2" fill="#99ff00"/><rect x="164" y="351" width="4" height="2" fill="#69ff00"/><rect x="168" y="351" width="2" height="2" fill="#99ff00"/><rect x="170" y="351" width="1" height="2" fill="#69ff00"/><rect x="171" y="351" width="2" height="2" fill="#99ff00"/><rect x="173" y="351" width="3" height="2" fill="#69ff00"/><rect x="176" y="351" width="2" height="2" fill="#99ff00"/><rect x="178" y="351" width="2" height="2" fill="#69ff00"/><rect x="180" y="351" width="2" height="2" fill="#22ff00"/><rect x="182" y="351" width="1" height="2" fill="#00ff85"/><rect x="183" y="351" width="2" height="2" fill="#00ffcc"/><rect x="185" y="351" width="2" height="2" fill="#008bff"/><rect x="187" y="351" width="1" height="2" fill="#00bbff"/><rect x="188" y="351" width="2" height="2" fill="#008bff"/><rect x="190" y="351" width="2" height="2" fill="#0044ff"/><rect x="192" y="351" width="2" height="2" fill="#008bff"/><rect x="194" y="351" width="1" height="2" fill="#0014ff"/><rect x="195" y="351" width="2" height="2" fill="#3300ff"/><rect x="197" y="351" width="2" height="2" fill="#00bbff"/><rect x="199" y="351" width="1" height="2" fill="#0044ff"/><rect x="200" y="351" width="2" height="2" fill="#0014ff"/><rect x="202" y="351" width="4" height="2" fill="#008bff"/><rect x="206" y="351" width="1" height="2" fill="#0014ff"/><rect x="207" y="351" width="2" height="2" fill="#008bff"/><rect x="209" y="351" width="2" height="2" fill="#0044ff"/><rect x="211" y="351" width="2" height="2" fill="#0014ff"/><rect x="213" y="351" width="1" height="2" fill="#008bff"/><rect x="214" y="351" width="2" height="2" fill="#00bbff"/><rect x="216" y="351" width="5" height="2" fill="#0044ff"/><rect x="221" y="351" width="2" height="2" fill="#6300ff"/><rect x="223" y="351" width="2" height="2" fill="#3300ff"/><rect x="225" y="351" width="1" height="2" fill="#0044ff"/><rect x="226" y="351" width="2" height="2" fill="#3300ff"/><rect x="228" y="351" width="3" height="2" fill="#0044ff"/><rect x="231" y="351" width="2" height="2" fill="#0014ff"/><rect x="233" y="351" width="2" height="2" fill="#008bff"/><rect x="235" y="351" width="3" height="2" fill="#6300ff"/><rect x="238" y="351" width="2" height="2" fill="#3300ff"/><rect x="240" y="351" width="2" height="2" fill="#0014ff"/><rect x="242" y="351" width="2" height="2" fill="#3300ff"/><rect x="244" y="351" width="1" height="2" fill="#008bff"/><rect x="245" y="351" width="2" height="2" fill="#0044ff"/><rect x="247" y="351" width="2" height="2" fill="#3300ff"/><rect x="249" y="351" width="1" height="2" fill="#6300ff"/><rect x="250" y="351" width="2" height="2" fill="#008bff"/><rect x="252" y="351" width="4" height="2" fill="#0044ff"/><rect x="256" y="351" width="3" height="2" fill="#3300ff"/><rect x="259" y="351" width="3" height="2" fill="#0014ff"/><rect x="262" y="351" width="2" height="2" fill="#6300ff"/><rect x="264" y="351" width="2" height="2" fill="#008bff"/><rect x="266" y="351" width="2" height="2" fill="#0014ff"/><rect x="268" y="351" width="1" height="2" fill="#008bff"/><rect x="269" y="351" width="5" height="2" fill="#3300ff"/><rect x="274" y="351" width="2" height="2" fill="#0014ff"/><rect x="276" y="351" width="5" height="2" fill="#3300ff"/><rect x="281" y="351" width="2" height="2" fill="#0014ff"/><rect x="283" y="351" width="5" height="2" fill="#6300ff"/><rect x="288" y="351" width="7" height="2" fill="#3300ff"/><rect x="295" y="351" width="2" height="2" fill="#6300ff"/><rect x="297" y="351" width="2" height="2" fill="#0014ff"/><rect x="299" y="351" width="1" height="2" fill="#3300ff"/><rect x="302" y="351" width="3" height="2" fill="#3300ff"/><rect x="305" y="351" width="6" height="2" fill="#6300ff"/><rect x="312" y="351" width="2" height="2" fill="#0044ff"/><rect x="314" y="351" width="2" height="2" fill="#3300ff"/><rect x="316" y="351" width="2" height="2" fill="#0044ff"/><rect x="319" y="351" width="2" height="2" fill="#6300ff"/><rect x="321" y="351" width="2" height="2" fill="#3300ff"/><rect x="323" y="351" width="1" height="2" fill="#6300ff"/><rect x="326" y="351" width="2" height="2" fill="#6300ff"/><rect x="328" y="351" width="2" height="2" fill="#0014ff"/><rect x="330" y="351" width="1" height="2" fill="#6300ff"/><rect x="331" y="351" width="2" height="2" fill="#0014ff"/><rect x="333" y="351" width="2" height="2" fill="#6300ff"/><rect x="335" y="351" width="3" height="2" fill="#3300ff"/><rect x="343" y="351" width="2" height="2" fill="#6300ff"/><rect x="347" y="351" width="2" height="2" fill="#0044ff"/><rect x="90" y="344" width="4" height="2" fill="#00fffc"/><rect x="94" y="344" width="86" height="2" fill="#99ff00"/><rect x="180" y="344" width="2" height="2" fill="#69ff00"/><rect x="182" y="344" width="1" height="2" fill="#00ff55"/><rect x="183" y="344" width="4" height="2" fill="#00ffcc"/><rect x="187" y="344" width="1" height="2" fill="#008bff"/><rect x="188" y="344" width="2" height="2" fill="#0014ff"/><rect x="190" y="344" width="2" height="2" fill="#008bff"/><rect x="192" y="344" width="2" height="2" fill="#00bbff"/><rect x="194" y="344" width="1" height="2" fill="#008bff"/><rect x="195" y="344" width="2" height="2" fill="#0014ff"/><rect x="197" y="344" width="2" height="2" fill="#6300ff"/><rect x="200" y="344" width="2" height="2" fill="#0044ff"/><rect x="202" y="344" width="2" height="2" fill="#6300ff"/><rect x="204" y="344" width="2" height="2" fill="#0014ff"/><rect x="206" y="344" width="1" height="2" fill="#3300ff"/><rect x="207" y="344" width="2" height="2" fill="#008bff"/><rect x="209" y="344" width="2" height="2" fill="#0014ff"/><rect x="211" y="344" width="2" height="2" fill="#0044ff"/><rect x="213" y="344" width="1" height="2" fill="#3300ff"/><rect x="214" y="344" width="2" height="2" fill="#6300ff"/><rect x="216" y="344" width="2" height="2" fill="#3300ff"/><rect x="218" y="344" width="1" height="2" fill="#0044ff"/><rect x="219" y="344" width="2" height="2" fill="#0014ff"/><rect x="221" y="344" width="2" height="2" fill="#0044ff"/><rect x="223" y="344" width="2" height="2" fill="#6300ff"/><rect x="225" y="344" width="1" height="2" fill="#008bff"/><rect x="230" y="344" width="1" height="2" fill="#3300ff"/><rect x="231" y="344" width="6" height="2" fill="#0014ff"/><rect x="237" y="344" width="1" height="2" fill="#6300ff"/><rect x="238" y="344" width="2" height="2" fill="#008bff"/><rect x="240" y="344" width="2" height="2" fill="#3300ff"/><rect x="242" y="344" width="2" height="2" fill="#0014ff"/><rect x="244" y="344" width="1" height="2" fill="#3300ff"/><rect x="245" y="344" width="4" height="2" fill="#0044ff"/><rect x="250" y="344" width="2" height="2" fill="#0044ff"/><rect x="252" y="344" width="2" height="2" fill="#3300ff"/><rect x="254" y="344" width="2" height="2" fill="#6300ff"/><rect x="256" y="344" width="3" height="2" fill="#3300ff"/><rect x="259" y="344" width="2" height="2" fill="#0044ff"/><rect x="262" y="344" width="2" height="2" fill="#3300ff"/><rect x="264" y="344" width="2" height="2" fill="#6300ff"/><rect x="266" y="344" width="2" height="2" fill="#0044ff"/><rect x="268" y="344" width="1" height="2" fill="#6300ff"/><rect x="269" y="344" width="2" height="2" fill="#0044ff"/><rect x="271" y="344" width="2" height="2" fill="#6300ff"/><rect x="273" y="344" width="5" height="2" fill="#3300ff"/><rect x="278" y="344" width="2" height="2" fill="#6300ff"/><rect x="281" y="344" width="2" height="2" fill="#0044ff"/><rect x="283" y="344" width="2" height="2" fill="#3300ff"/><rect x="285" y="344" width="2" height="2" fill="#008bff"/><rect x="287" y="344" width="3" height="2" fill="#6300ff"/><rect x="290" y="344" width="2" height="2" fill="#3300ff"/><rect x="292" y="344" width="1" height="2" fill="#6300ff"/><rect x="297" y="344" width="2" height="2" fill="#6300ff"/><rect x="299" y="344" width="1" height="2" fill="#3300ff"/><rect x="300" y="344" width="5" height="2" fill="#6300ff"/><rect x="305" y="344" width="2" height="2" fill="#3300ff"/><rect x="311" y="344" width="1" height="2" fill="#0014ff"/><rect x="312" y="344" width="2" height="2" fill="#6300ff"/><rect x="316" y="344" width="3" height="2" fill="#3300ff"/><rect x="319" y="344" width="2" height="2" fill="#0014ff"/><rect x="321" y="344" width="2" height="2" fill="#3300ff"/><rect x="323" y="344" width="1" height="2" fill="#6300ff"/><rect x="326" y="344" width="2" height="2" fill="#6300ff"/><rect x="330" y="344" width="1" height="2" fill="#6300ff"/><rect x="335" y="344" width="1" height="2" fill="#6300ff"/><rect x="336" y="344" width="2" height="2" fill="#3300ff"/><rect x="338" y="344" width="2" height="2" fill="#6300ff"/><rect x="342" y="344" width="1" height="2" fill="#6300ff"/><rect x="345" y="344" width="4" height="2" fill="#6300ff"/><rect x="90" y="340" width="4" height="2" fill="#00fffc"/><rect x="94" y="340" width="2" height="2" fill="#99ff00"/><rect x="96" y="340" width="3" height="2" fill="#e0ff00"/><rect x="99" y="340" width="5" height="2" fill="#99ff00"/><rect x="104" y="340" width="7" height="2" fill="#e0ff00"/><rect x="111" y="340" width="67" height="2" fill="#99ff00"/><rect x="178" y="340" width="2" height="2" fill="#22ff00"/><rect x="180" y="340" width="2" height="2" fill="#00ff55"/><rect x="182" y="340" width="1" height="2" fill="#00ffcc"/><rect x="183" y="340" width="4" height="2" fill="#00fffc"/><rect x="187" y="340" width="1" height="2" fill="#00bbff"/><rect x="188" y="340" width="2" height="2" fill="#0044ff"/><rect x="190" y="340" width="2" height="2" fill="#00bbff"/><rect x="192" y="340" width="3" height="2" fill="#008bff"/><rect x="195" y="340" width="2" height="2" fill="#3300ff"/><rect x="197" y="340" width="2" height="2" fill="#0014ff"/><rect x="199" y="340" width="1" height="2" fill="#0044ff"/><rect x="200" y="340" width="2" height="2" fill="#008bff"/><rect x="202" y="340" width="2" height="2" fill="#0044ff"/><rect x="204" y="340" width="2" height="2" fill="#0014ff"/><rect x="207" y="340" width="4" height="2" fill="#0044ff"/><rect x="211" y="340" width="2" height="2" fill="#3300ff"/><rect x="213" y="340" width="5" height="2" fill="#0044ff"/><rect x="219" y="340" width="2" height="2" fill="#3300ff"/><rect x="221" y="340" width="2" height="2" fill="#0014ff"/><rect x="223" y="340" width="3" height="2" fill="#0044ff"/><rect x="228" y="340" width="2" height="2" fill="#3300ff"/><rect x="231" y="340" width="2" height="2" fill="#0044ff"/><rect x="233" y="340" width="2" height="2" fill="#0014ff"/><rect x="235" y="340" width="3" height="2" fill="#6300ff"/><rect x="238" y="340" width="7" height="2" fill="#3300ff"/><rect x="245" y="340" width="2" height="2" fill="#6300ff"/><rect x="247" y="340" width="2" height="2" fill="#3300ff"/><rect x="250" y="340" width="4" height="2" fill="#6300ff"/><rect x="254" y="340" width="2" height="2" fill="#3300ff"/><rect x="256" y="340" width="3" height="2" fill="#0044ff"/><rect x="259" y="340" width="2" height="2" fill="#3300ff"/><rect x="261" y="340" width="1" height="2" fill="#6300ff"/><rect x="262" y="340" width="2" height="2" fill="#0014ff"/><rect x="264" y="340" width="2" height="2" fill="#0044ff"/><rect x="266" y="340" width="2" height="2" fill="#6300ff"/><rect x="269" y="340" width="5" height="2" fill="#0014ff"/><rect x="274" y="340" width="2" height="2" fill="#0044ff"/><rect x="276" y="340" width="4" height="2" fill="#6300ff"/><rect x="280" y="340" width="1" height="2" fill="#0044ff"/><rect x="281" y="340" width="2" height="2" fill="#6300ff"/><rect x="283" y="340" width="2" height="2" fill="#3300ff"/><rect x="285" y="340" width="2" height="2" fill="#6300ff"/><rect x="287" y="340" width="1" height="2" fill="#008bff"/><rect x="288" y="340" width="2" height="2" fill="#6300ff"/><rect x="292" y="340" width="1" height="2" fill="#0014ff"/><rect x="295" y="340" width="2" height="2" fill="#6300ff"/><rect x="299" y="340" width="1" height="2" fill="#6300ff"/><rect x="305" y="340" width="2" height="2" fill="#3300ff"/><rect x="311" y="340" width="3" height="2" fill="#6300ff"/><rect x="316" y="340" width="3" height="2" fill="#6300ff"/><rect x="319" y="340" width="2" height="2" fill="#0014ff"/><rect x="321" y="340" width="2" height="2" fill="#3300ff"/><rect x="326" y="340" width="2" height="2" fill="#3300ff"/><rect x="335" y="340" width="3" height="2" fill="#0014ff"/><rect x="342" y="340" width="1" height="2" fill="#6300ff"/><rect x="90" y="335" width="4" height="3" fill="#00fffc"/><rect x="94" y="335" width="2" height="3" fill="#99ff00"/><rect x="96" y="335" width="68" height="3" fill="#ffee00"/><rect x="164" y="335" width="2" height="3" fill="#e0ff00"/><rect x="166" y="335" width="4" height="3" fill="#ffee00"/><rect x="170" y="335" width="3" height="3" fill="#e0ff00"/><rect x="173" y="335" width="2" height="3" fill="#ffee00"/><rect x="175" y="335" width="1" height="3" fill="#e0ff00"/><rect x="176" y="335" width="2" height="3" fill="#69ff00"/><rect x="178" y="335" width="2" height="3" fill="#22ff00"/><rect x="180" y="335" width="2" height="3" fill="#00ff0e"/><rect x="182" y="335" width="5" height="3" fill="#00ff55"/><rect x="187" y="335" width="3" height="3" fill="#00ff85"/><rect x="190" y="335" width="2" height="3" fill="#00ffcc"/><rect x="192" y="335" width="5" height="3" fill="#00bbff"/><rect x="197" y="335" width="2" height="3" fill="#00fffc"/><rect x="199" y="335" width="1" height="3" fill="#008bff"/><rect x="200" y="335" width="2" height="3" fill="#00bbff"/><rect x="202" y="335" width="4" height="3" fill="#0014ff"/><rect x="206" y="335" width="1" height="3" fill="#0044ff"/><rect x="207" y="335" width="2" height="3" fill="#3300ff"/><rect x="209" y="335" width="10" height="3" fill="#0044ff"/><rect x="219" y="335" width="2" height="3" fill="#3300ff"/><rect x="221" y="335" width="2" height="3" fill="#0044ff"/><rect x="223" y="335" width="2" height="3" fill="#3300ff"/><rect x="225" y="335" width="1" height="3" fill="#00bbff"/><rect x="226" y="335" width="2" height="3" fill="#6300ff"/><rect x="228" y="335" width="2" height="3" fill="#0014ff"/><rect x="230" y="335" width="1" height="3" fill="#3300ff"/><rect x="231" y="335" width="2" height="3" fill="#008bff"/><rect x="233" y="335" width="2" height="3" fill="#0044ff"/><rect x="235" y="335" width="2" height="3" fill="#6300ff"/><rect x="237" y="335" width="1" height="3" fill="#0044ff"/><rect x="238" y="335" width="2" height="3" fill="#0014ff"/><rect x="240" y="335" width="2" height="3" fill="#6300ff"/><rect x="242" y="335" width="2" height="3" fill="#0014ff"/><rect x="244" y="335" width="1" height="3" fill="#0044ff"/><rect x="245" y="335" width="4" height="3" fill="#0014ff"/><rect x="250" y="335" width="6" height="3" fill="#0014ff"/><rect x="257" y="335" width="2" height="3" fill="#3300ff"/><rect x="261" y="335" width="1" height="3" fill="#0014ff"/><rect x="262" y="335" width="2" height="3" fill="#3300ff"/><rect x="264" y="335" width="2" height="3" fill="#6300ff"/><rect x="266" y="335" width="2" height="3" fill="#3300ff"/><rect x="268" y="335" width="1" height="3" fill="#6300ff"/><rect x="269" y="335" width="2" height="3" fill="#3300ff"/><rect x="273" y="335" width="1" height="3" fill="#0014ff"/><rect x="274" y="335" width="4" height="3" fill="#6300ff"/><rect x="280" y="335" width="3" height="3" fill="#6300ff"/><rect x="287" y="335" width="3" height="3" fill="#6300ff"/><rect x="292" y="335" width="1" height="3" fill="#3300ff"/><rect x="300" y="335" width="2" height="3" fill="#6300ff"/><rect x="304" y="335" width="1" height="3" fill="#3300ff"/><rect x="305" y="335" width="2" height="3" fill="#6300ff"/><rect x="312" y="335" width="2" height="3" fill="#6300ff"/><rect x="318" y="335" width="1" height="3" fill="#6300ff"/><rect x="321" y="335" width="2" height="3" fill="#6300ff"/><rect x="326" y="335" width="2" height="3" fill="#6300ff"/><rect x="335" y="335" width="1" height="3" fill="#6300ff"/><rect x="90" y="331" width="4" height="2" fill="#00fffc"/><rect x="94" y="331" width="2" height="2" fill="#e0ff00"/><rect x="96" y="331" width="12" height="2" fill="#ff7700"/><rect x="108" y="331" width="1" height="2" fill="#ffa700"/><rect x="109" y="331" width="5" height="2" fill="#ff7700"/><rect x="114" y="331" width="2" height="2" fill="#ffa700"/><rect x="116" y="331" width="2" height="2" fill="#ff7700"/><rect x="118" y="331" width="2" height="2" fill="#ffa700"/><rect x="120" y="331" width="5" height="2" fill="#ff7700"/><rect x="125" y="331" width="51" height="2" fill="#ffa700"/><rect x="176" y="331" width="2" height="2" fill="#e0ff00"/><rect x="178" y="331" width="2" height="2" fill="#99ff00"/><rect x="180" y="331" width="2" height="2" fill="#69ff00"/><rect x="182" y="331" width="3" height="2" fill="#00ff0e"/><rect x="185" y="331" width="3" height="2" fill="#00ff55"/><rect x="188" y="331" width="6" height="2" fill="#00fffc"/><rect x="194" y="331" width="1" height="2" fill="#00ffcc"/><rect x="195" y="331" width="2" height="2" fill="#00fffc"/><rect x="197" y="331" width="2" height="2" fill="#00ffcc"/><rect x="199" y="331" width="1" height="2" fill="#00bbff"/><rect x="200" y="331" width="2" height="2" fill="#0044ff"/><rect x="202" y="331" width="2" height="2" fill="#008bff"/><rect x="204" y="331" width="2" height="2" fill="#00bbff"/><rect x="206" y="331" width="1" height="2" fill="#0044ff"/><rect x="207" y="331" width="2" height="2" fill="#0014ff"/><rect x="209" y="331" width="2" height="2" fill="#00bbff"/><rect x="211" y="331" width="2" height="2" fill="#0044ff"/><rect x="213" y="331" width="1" height="2" fill="#00bbff"/><rect x="214" y="331" width="2" height="2" fill="#008bff"/><rect x="216" y="331" width="2" height="2" fill="#0044ff"/><rect x="219" y="331" width="2" height="2" fill="#6300ff"/><rect x="221" y="331" width="2" height="2" fill="#0014ff"/><rect x="223" y="331" width="2" height="2" fill="#3300ff"/><rect x="225" y="331" width="1" height="2" fill="#0014ff"/><rect x="228" y="331" width="3" height="2" fill="#3300ff"/><rect x="231" y="331" width="4" height="2" fill="#6300ff"/><rect x="235" y="331" width="5" height="2" fill="#3300ff"/><rect x="242" y="331" width="3" height="2" fill="#3300ff"/><rect x="245" y="331" width="2" height="2" fill="#6300ff"/><rect x="247" y="331" width="2" height="2" fill="#0014ff"/><rect x="249" y="331" width="1" height="2" fill="#6300ff"/><rect x="250" y="331" width="2" height="2" fill="#0014ff"/><rect x="257" y="331" width="2" height="2" fill="#6300ff"/><rect x="259" y="331" width="2" height="2" fill="#0044ff"/><rect x="261" y="331" width="1" height="2" fill="#0014ff"/><rect x="262" y="331" width="2" height="2" fill="#0044ff"/><rect x="268" y="331" width="3" height="2" fill="#6300ff"/><rect x="273" y="331" width="1" height="2" fill="#6300ff"/><rect x="274" y="331" width="2" height="2" fill="#3300ff"/><rect x="278" y="331" width="2" height="2" fill="#6300ff"/><rect x="280" y="331" width="1" height="2" fill="#3300ff"/><rect x="283" y="331" width="2" height="2" fill="#6300ff"/><rect x="285" y="331" width="2" height="2" fill="#0044ff"/><rect x="287" y="331" width="1" height="2" fill="#6300ff"/><rect x="290" y="331" width="5" height="2" fill="#6300ff"/><rect x="297" y="331" width="2" height="2" fill="#3300ff"/><rect x="302" y="331" width="2" height="2" fill="#3300ff"/><rect x="305" y="331" width="4" height="2" fill="#6300ff"/><rect x="314" y="331" width="4" height="2" fill="#6300ff"/><rect x="323" y="331" width="1" height="2" fill="#6300ff"/><rect x="328" y="331" width="2" height="2" fill="#6300ff"/><rect x="342" y="331" width="1" height="2" fill="#6300ff"/><rect x="90" y="324" width="4" height="3" fill="#00ff55"/><rect x="94" y="324" width="2" height="3" fill="#ffa700"/><rect x="96" y="324" width="79" height="3" fill="#ff3000"/><rect x="175" y="324" width="1" height="3" fill="#ff7700"/><rect x="176" y="324" width="2" height="3" fill="#ffa700"/><rect x="178" y="324" width="2" height="3" fill="#e0ff00"/><rect x="180" y="324" width="3" height="3" fill="#69ff00"/><rect x="183" y="324" width="2" height="3" fill="#22ff00"/><rect x="185" y="324" width="3" height="3" fill="#00ff0e"/><rect x="188" y="324" width="4" height="3" fill="#00ff55"/><rect x="192" y="324" width="2" height="3" fill="#00ff85"/><rect x="194" y="324" width="5" height="3" fill="#00bbff"/><rect x="199" y="324" width="1" height="3" fill="#008bff"/><rect x="200" y="324" width="2" height="3" fill="#0044ff"/><rect x="202" y="324" width="4" height="3" fill="#008bff"/><rect x="206" y="324" width="1" height="3" fill="#0014ff"/><rect x="207" y="324" width="2" height="3" fill="#00bbff"/><rect x="209" y="324" width="2" height="3" fill="#008bff"/><rect x="211" y="324" width="2" height="3" fill="#00bbff"/><rect x="213" y="324" width="1" height="3" fill="#008bff"/><rect x="214" y="324" width="4" height="3" fill="#0044ff"/><rect x="218" y="324" width="1" height="3" fill="#008bff"/><rect x="219" y="324" width="2" height="3" fill="#0044ff"/><rect x="221" y="324" width="2" height="3" fill="#008bff"/><rect x="223" y="324" width="3" height="3" fill="#0014ff"/><rect x="226" y="324" width="4" height="3" fill="#0044ff"/><rect x="230" y="324" width="3" height="3" fill="#0014ff"/><rect x="233" y="324" width="2" height="3" fill="#6300ff"/><rect x="237" y="324" width="3" height="3" fill="#0014ff"/><rect x="240" y="324" width="2" height="3" fill="#0044ff"/><rect x="242" y="324" width="2" height="3" fill="#6300ff"/><rect x="244" y="324" width="1" height="3" fill="#3300ff"/><rect x="245" y="324" width="4" height="3" fill="#6300ff"/><rect x="249" y="324" width="3" height="3" fill="#0044ff"/><rect x="252" y="324" width="4" height="3" fill="#3300ff"/><rect x="256" y="324" width="1" height="3" fill="#0044ff"/><rect x="257" y="324" width="2" height="3" fill="#3300ff"/><rect x="259" y="324" width="2" height="3" fill="#6300ff"/><rect x="262" y="324" width="2" height="3" fill="#0044ff"/><rect x="264" y="324" width="4" height="3" fill="#6300ff"/><rect x="268" y="324" width="1" height="3" fill="#3300ff"/><rect x="271" y="324" width="3" height="3" fill="#0014ff"/><rect x="274" y="324" width="6" height="3" fill="#3300ff"/><rect x="280" y="324" width="1" height="3" fill="#0044ff"/><rect x="283" y="324" width="2" height="3" fill="#6300ff"/><rect x="293" y="324" width="2" height="3" fill="#6300ff"/><rect x="299" y="324" width="1" height="3" fill="#6300ff"/><rect x="302" y="324" width="3" height="3" fill="#6300ff"/><rect x="307" y="324" width="2" height="3" fill="#6300ff"/><rect x="316" y="324" width="2" height="3" fill="#6300ff"/><rect x="90" y="320" width="4" height="2" fill="#00ff55"/><rect x="94" y="320" width="2" height="2" fill="#ff7700"/><rect x="96" y="320" width="79" height="2" fill="#ff0000"/><rect x="175" y="320" width="1" height="2" fill="#ff3000"/><rect x="176" y="320" width="2" height="2" fill="#ffa700"/><rect x="178" y="320" width="2" height="2" fill="#e0ff00"/><rect x="180" y="320" width="2" height="2" fill="#99ff00"/><rect x="182" y="320" width="1" height="2" fill="#22ff00"/><rect x="183" y="320" width="2" height="2" fill="#00ff0e"/><rect x="185" y="320" width="2" height="2" fill="#00ff55"/><rect x="187" y="320" width="3" height="2" fill="#00ff85"/><rect x="190" y="320" width="2" height="2" fill="#00ffcc"/><rect x="192" y="320" width="2" height="2" fill="#00fffc"/><rect x="194" y="320" width="5" height="2" fill="#00bbff"/><rect x="199" y="320" width="1" height="2" fill="#0044ff"/><rect x="200" y="320" width="2" height="2" fill="#0014ff"/><rect x="202" y="320" width="2" height="2" fill="#008bff"/><rect x="204" y="320" width="2" height="2" fill="#3300ff"/><rect x="206" y="320" width="3" height="2" fill="#008bff"/><rect x="209" y="320" width="2" height="2" fill="#0044ff"/><rect x="211" y="320" width="3" height="2" fill="#008bff"/><rect x="214" y="320" width="2" height="2" fill="#0044ff"/><rect x="216" y="320" width="2" height="2" fill="#6300ff"/><rect x="218" y="320" width="1" height="2" fill="#008bff"/><rect x="219" y="320" width="2" height="2" fill="#6300ff"/><rect x="221" y="320" width="2" height="2" fill="#0044ff"/><rect x="223" y="320" width="2" height="2" fill="#6300ff"/><rect x="225" y="320" width="1" height="2" fill="#008bff"/><rect x="226" y="320" width="4" height="2" fill="#6300ff"/><rect x="230" y="320" width="1" height="2" fill="#0014ff"/><rect x="233" y="320" width="2" height="2" fill="#0044ff"/><rect x="237" y="320" width="1" height="2" fill="#6300ff"/><rect x="238" y="320" width="2" height="2" fill="#0014ff"/><rect x="240" y="320" width="4" height="2" fill="#3300ff"/><rect x="244" y="320" width="3" height="2" fill="#6300ff"/><rect x="247" y="320" width="2" height="2" fill="#0014ff"/><rect x="250" y="320" width="6" height="2" fill="#3300ff"/><rect x="256" y="320" width="1" height="2" fill="#6300ff"/><rect x="257" y="320" width="2" height="2" fill="#3300ff"/><rect x="259" y="320" width="3" height="2" fill="#6300ff"/><rect x="268" y="320" width="1" height="2" fill="#3300ff"/><rect x="269" y="320" width="2" height="2" fill="#6300ff"/><rect x="273" y="320" width="1" height="2" fill="#0044ff"/><rect x="285" y="320" width="2" height="2" fill="#3300ff"/><rect x="287" y="320" width="1" height="2" fill="#6300ff"/><rect x="288" y="320" width="2" height="2" fill="#0014ff"/><rect x="292" y="320" width="1" height="2" fill="#6300ff"/><rect x="297" y="320" width="5" height="2" fill="#6300ff"/><rect x="304" y="320" width="3" height="2" fill="#6300ff"/><rect x="314" y="320" width="4" height="2" fill="#6300ff"/><rect x="319" y="320" width="2" height="2" fill="#3300ff"/><rect x="323" y="320" width="1" height="2" fill="#6300ff"/><rect x="338" y="320" width="2" height="2" fill="#3300ff"/><rect x="345" y="320" width="2" height="2" fill="#3300ff"/><rect x="90" y="316" width="4" height="2" fill="#00ff55"/><rect x="94" y="316" width="50" height="2" fill="#ff0000"/><rect x="144" y="316" width="1" height="2" fill="#ff3000"/><rect x="145" y="316" width="11" height="2" fill="#ff0000"/><rect x="156" y="316" width="1" height="2" fill="#ff3000"/><rect x="157" y="316" width="6" height="2" fill="#ff0000"/><rect x="163" y="316" width="3" height="2" fill="#ff3000"/><rect x="166" y="316" width="2" height="2" fill="#ff0000"/><rect x="168" y="316" width="2" height="2" fill="#ff3000"/><rect x="170" y="316" width="1" height="2" fill="#ff0000"/><rect x="171" y="316" width="5" height="2" fill="#ff3000"/><rect x="176" y="316" width="2" height="2" fill="#ffa700"/><rect x="178" y="316" width="2" height="2" fill="#e0ff00"/><rect x="180" y="316" width="2" height="2" fill="#99ff00"/><rect x="182" y="316" width="1" height="2" fill="#22ff00"/><rect x="183" y="316" width="2" height="2" fill="#00ff0e"/><rect x="185" y="316" width="2" height="2" fill="#00ff55"/><rect x="187" y="316" width="1" height="2" fill="#00ff85"/><rect x="188" y="316" width="4" height="2" fill="#00ffcc"/><rect x="192" y="316" width="2" height="2" fill="#00bbff"/><rect x="194" y="316" width="1" height="2" fill="#0044ff"/><rect x="195" y="316" width="4" height="2" fill="#008bff"/><rect x="199" y="316" width="3" height="2" fill="#0044ff"/><rect x="202" y="316" width="2" height="2" fill="#6300ff"/><rect x="204" y="316" width="2" height="2" fill="#008bff"/><rect x="206" y="316" width="3" height="2" fill="#3300ff"/><rect x="209" y="316" width="2" height="2" fill="#008bff"/><rect x="211" y="316" width="3" height="2" fill="#6300ff"/><rect x="218" y="316" width="3" height="2" fill="#3300ff"/><rect x="226" y="316" width="2" height="2" fill="#6300ff"/><rect x="228" y="316" width="2" height="2" fill="#3300ff"/><rect x="233" y="316" width="4" height="2" fill="#6300ff"/><rect x="238" y="316" width="4" height="2" fill="#6300ff"/><rect x="245" y="316" width="2" height="2" fill="#3300ff"/><rect x="254" y="316" width="2" height="2" fill="#3300ff"/><rect x="256" y="316" width="5" height="2" fill="#6300ff"/><rect x="262" y="316" width="2" height="2" fill="#6300ff"/><rect x="264" y="316" width="2" height="2" fill="#3300ff"/><rect x="266" y="316" width="3" height="2" fill="#6300ff"/><rect x="309" y="316" width="2" height="2" fill="#6300ff"/><rect x="323" y="316" width="1" height="2" fill="#6300ff"/><rect x="335" y="316" width="1" height="2" fill="#3300ff"/><rect x="338" y="316" width="2" height="2" fill="#3300ff"/><rect x="340" y="316" width="3" height="2" fill="#6300ff"/><rect x="345" y="316" width="4" height="2" fill="#6300ff"/><rect x="90" y="311" width="4" height="3" fill="#00ff55"/><rect x="94" y="311" width="2" height="3" fill="#ff3000"/><rect x="96" y="311" width="3" height="3" fill="#ff7700"/><rect x="99" y="311" width="3" height="3" fill="#ffa700"/><rect x="102" y="311" width="4" height="3" fill="#ffee00"/><rect x="106" y="311" width="8" height="3" fill="#e0ff00"/><rect x="114" y="311" width="28" height="3" fill="#99ff00"/><rect x="142" y="311" width="2" height="3" fill="#69ff00"/><rect x="144" y="311" width="3" height="3" fill="#99ff00"/><rect x="147" y="311" width="4" height="3" fill="#69ff00"/><rect x="151" y="311" width="8" height="3" fill="#99ff00"/><rect x="159" y="311" width="2" height="3" fill="#69ff00"/><rect x="161" y="311" width="2" height="3" fill="#99ff00"/><rect x="163" y="311" width="3" height="3" fill="#69ff00"/><rect x="166" y="311" width="2" height="3" fill="#99ff00"/><rect x="168" y="311" width="10" height="3" fill="#69ff00"/><rect x="178" y="311" width="2" height="3" fill="#00ff0e"/><rect x="180" y="311" width="2" height="3" fill="#00ff55"/><rect x="182" y="311" width="1" height="3" fill="#00ffcc"/><rect x="183" y="311" width="2" height="3" fill="#00bbff"/><rect x="185" y="311" width="2" height="3" fill="#008bff"/><rect x="187" y="311" width="3" height="3" fill="#0014ff"/><rect x="194" y="311" width="1" height="3" fill="#6300ff"/><rect x="195" y="311" width="2" height="3" fill="#0014ff"/><rect x="199" y="311" width="1" height="3" fill="#0044ff"/><rect x="206" y="311" width="1" height="3" fill="#6300ff"/><rect x="225" y="311" width="1" height="3" fill="#6300ff"/><rect x="244" y="311" width="1" height="3" fill="#6300ff"/><rect x="268" y="311" width="1" height="3" fill="#6300ff"/><rect x="90" y="305" width="4" height="2" fill="#00ff55"/><rect x="94" y="305" width="2" height="2" fill="#ff7700"/><rect x="96" y="305" width="1" height="2" fill="#ffa700"/><rect x="97" y="305" width="2" height="2" fill="#ffee00"/><rect x="99" y="305" width="2" height="2" fill="#e0ff00"/><rect x="101" y="305" width="5" height="2" fill="#99ff00"/><rect x="106" y="305" width="7" height="2" fill="#69ff00"/><rect x="113" y="305" width="10" height="2" fill="#22ff00"/><rect x="123" y="305" width="2" height="2" fill="#00ff0e"/><rect x="125" y="305" width="8" height="2" fill="#22ff00"/><rect x="133" y="305" width="2" height="2" fill="#00ff0e"/><rect x="135" y="305" width="2" height="2" fill="#22ff00"/><rect x="137" y="305" width="3" height="2" fill="#00ff0e"/><rect x="140" y="305" width="2" height="2" fill="#22ff00"/><rect x="142" y="305" width="3" height="2" fill="#00ff0e"/><rect x="145" y="305" width="4" height="2" fill="#22ff00"/><rect x="149" y="305" width="15" height="2" fill="#00ff0e"/><rect x="164" y="305" width="2" height="2" fill="#22ff00"/><rect x="166" y="305" width="10" height="2" fill="#00ff0e"/><rect x="176" y="305" width="2" height="2" fill="#00ff85"/><rect x="178" y="305" width="2" height="2" fill="#00ffcc"/><rect x="180" y="305" width="2" height="2" fill="#008bff"/><rect x="182" y="305" width="1" height="2" fill="#0044ff"/><rect x="183" y="305" width="2" height="2" fill="#0014ff"/><rect x="211" y="305" width="2" height="2" fill="#6300ff"/><rect x="216" y="305" width="2" height="2" fill="#6300ff"/><rect x="90" y="300" width="4" height="3" fill="#00ff55"/><rect x="94" y="300" width="2" height="3" fill="#ffa700"/><rect x="96" y="300" width="1" height="3" fill="#ffee00"/><rect x="97" y="300" width="4" height="3" fill="#99ff00"/><rect x="101" y="300" width="3" height="3" fill="#69ff00"/><rect x="104" y="300" width="4" height="3" fill="#22ff00"/><rect x="108" y="300" width="18" height="3" fill="#00ff0e"/><rect x="126" y="300" width="2" height="3" fill="#00ff55"/><rect x="128" y="300" width="4" height="3" fill="#00ff0e"/><rect x="132" y="300" width="7" height="3" fill="#00ff55"/><rect x="139" y="300" width="1" height="3" fill="#00ff85"/><rect x="140" y="300" width="4" height="3" fill="#00ff55"/><rect x="144" y="300" width="3" height="3" fill="#00ff85"/><rect x="147" y="300" width="2" height="3" fill="#00ffcc"/><rect x="149" y="300" width="12" height="3" fill="#00ff85"/><rect x="161" y="300" width="2" height="3" fill="#00ffcc"/><rect x="163" y="300" width="5" height="3" fill="#00ff85"/><rect x="168" y="300" width="2" height="3" fill="#00ffcc"/><rect x="170" y="300" width="1" height="3" fill="#00ff85"/><rect x="171" y="300" width="4" height="3" fill="#00fffc"/><rect x="175" y="300" width="1" height="3" fill="#00bbff"/><rect x="176" y="300" width="2" height="3" fill="#00fffc"/><rect x="178" y="300" width="7" height="3" fill="#6300ff"/><rect x="185" y="300" width="2" height="3" fill="#3300ff"/><rect x="90" y="296" width="4" height="2" fill="#00ff55"/><rect x="94" y="296" width="2" height="2" fill="#ffee00"/><rect x="96" y="296" width="1" height="2" fill="#e0ff00"/><rect x="97" y="296" width="4" height="2" fill="#69ff00"/><rect x="101" y="296" width="5" height="2" fill="#22ff00"/><rect x="106" y="296" width="2" height="2" fill="#00ff0e"/><rect x="108" y="296" width="10" height="2" fill="#00ff55"/><rect x="118" y="296" width="10" height="2" fill="#00ff85"/><rect x="128" y="296" width="2" height="2" fill="#00ffcc"/><rect x="130" y="296" width="2" height="2" fill="#00ff85"/><rect x="132" y="296" width="5" height="2" fill="#00ffcc"/><rect x="137" y="296" width="3" height="2" fill="#00ff85"/><rect x="140" y="296" width="5" height="2" fill="#00ffcc"/><rect x="145" y="296" width="2" height="2" fill="#00fffc"/><rect x="147" y="296" width="4" height="2" fill="#00ffcc"/><rect x="151" y="296" width="3" height="2" fill="#00fffc"/><rect x="154" y="296" width="2" height="2" fill="#00ffcc"/><rect x="156" y="296" width="1" height="2" fill="#00fffc"/><rect x="157" y="296" width="2" height="2" fill="#00ffcc"/><rect x="159" y="296" width="5" height="2" fill="#00fffc"/><rect x="164" y="296" width="2" height="2" fill="#00ffcc"/><rect x="166" y="296" width="2" height="2" fill="#00bbff"/><rect x="168" y="296" width="2" height="2" fill="#00fffc"/><rect x="170" y="296" width="1" height="2" fill="#00ffcc"/><rect x="171" y="296" width="2" height="2" fill="#00fffc"/><rect x="173" y="296" width="2" height="2" fill="#00bbff"/><rect x="175" y="296" width="1" height="2" fill="#00fffc"/><rect x="176" y="296" width="2" height="2" fill="#008bff"/><rect x="178" y="296" width="4" height="2" fill="#6300ff"/><rect x="182" y="296" width="1" height="2" fill="#3300ff"/><rect x="90" y="292" width="4" height="2" fill="#00ff55"/><rect x="94" y="292" width="2" height="2" fill="#ffee00"/><rect x="96" y="292" width="1" height="2" fill="#69ff00"/><rect x="97" y="292" width="4" height="2" fill="#00ff0e"/><rect x="101" y="292" width="8" height="2" fill="#00ff55"/><rect x="109" y="292" width="5" height="2" fill="#00ff85"/><rect x="114" y="292" width="11" height="2" fill="#00ffcc"/><rect x="125" y="292" width="5" height="2" fill="#00fffc"/><rect x="130" y="292" width="2" height="2" fill="#00bbff"/><rect x="132" y="292" width="1" height="2" fill="#00fffc"/><rect x="133" y="292" width="2" height="2" fill="#008bff"/><rect x="135" y="292" width="2" height="2" fill="#00bbff"/><rect x="137" y="292" width="2" height="2" fill="#008bff"/><rect x="139" y="292" width="1" height="2" fill="#0044ff"/><rect x="140" y="292" width="4" height="2" fill="#008bff"/><rect x="144" y="292" width="1" height="2" fill="#00bbff"/><rect x="145" y="292" width="4" height="2" fill="#0044ff"/><rect x="149" y="292" width="2" height="2" fill="#00fffc"/><rect x="151" y="292" width="3" height="2" fill="#00bbff"/><rect x="154" y="292" width="2" height="2" fill="#0014ff"/><rect x="156" y="292" width="1" height="2" fill="#008bff"/><rect x="157" y="292" width="4" height="2" fill="#00bbff"/><rect x="161" y="292" width="2" height="2" fill="#00fffc"/><rect x="163" y="292" width="1" height="2" fill="#00bbff"/><rect x="164" y="292" width="2" height="2" fill="#00fffc"/><rect x="166" y="292" width="2" height="2" fill="#008bff"/><rect x="168" y="292" width="2" height="2" fill="#00bbff"/><rect x="170" y="292" width="1" height="2" fill="#008bff"/><rect x="171" y="292" width="2" height="2" fill="#00fffc"/><rect x="173" y="292" width="2" height="2" fill="#00bbff"/><rect x="175" y="292" width="1" height="2" fill="#008bff"/><rect x="176" y="292" width="2" height="2" fill="#00bbff"/><rect x="178" y="292" width="4" height="2" fill="#6300ff"/><rect x="90" y="285" width="4" height="2" fill="#00fffc"/><rect x="94" y="285" width="2" height="2" fill="#99ff00"/><rect x="96" y="285" width="1" height="2" fill="#22ff00"/><rect x="97" y="285" width="2" height="2" fill="#00ff85"/><rect x="99" y="285" width="3" height="2" fill="#00ffcc"/><rect x="102" y="285" width="6" height="2" fill="#00bbff"/><rect x="108" y="285" width="5" height="2" fill="#008bff"/><rect x="113" y="285" width="1" height="2" fill="#00fffc"/><rect x="114" y="285" width="7" height="2" fill="#00bbff"/><rect x="121" y="285" width="2" height="2" fill="#008bff"/><rect x="123" y="285" width="2" height="2" fill="#00fffc"/><rect x="125" y="285" width="3" height="2" fill="#008bff"/><rect x="128" y="285" width="2" height="2" fill="#0044ff"/><rect x="130" y="285" width="9" height="2" fill="#008bff"/><rect x="139" y="285" width="1" height="2" fill="#00bbff"/><rect x="140" y="285" width="2" height="2" fill="#008bff"/><rect x="142" y="285" width="2" height="2" fill="#3300ff"/><rect x="144" y="285" width="1" height="2" fill="#0044ff"/><rect x="145" y="285" width="4" height="2" fill="#008bff"/><rect x="149" y="285" width="2" height="2" fill="#3300ff"/><rect x="151" y="285" width="1" height="2" fill="#008bff"/><rect x="152" y="285" width="2" height="2" fill="#0044ff"/><rect x="154" y="285" width="2" height="2" fill="#3300ff"/><rect x="156" y="285" width="1" height="2" fill="#008bff"/><rect x="157" y="285" width="2" height="2" fill="#0014ff"/><rect x="161" y="285" width="2" height="2" fill="#008bff"/><rect x="163" y="285" width="1" height="2" fill="#0044ff"/><rect x="164" y="285" width="2" height="2" fill="#008bff"/><rect x="166" y="285" width="2" height="2" fill="#3300ff"/><rect x="168" y="285" width="2" height="2" fill="#0044ff"/><rect x="170" y="285" width="1" height="2" fill="#6300ff"/><rect x="171" y="285" width="4" height="2" fill="#0044ff"/><rect x="175" y="285" width="1" height="2" fill="#008bff"/><rect x="176" y="285" width="2" height="2" fill="#0044ff"/><rect x="178" y="285" width="4" height="2" fill="#3300ff"/><rect x="90" y="281" width="4" height="2" fill="#00fffc"/><rect x="94" y="281" width="2" height="2" fill="#00ff0e"/><rect x="96" y="281" width="1" height="2" fill="#00ff55"/><rect x="97" y="281" width="2" height="2" fill="#00ff85"/><rect x="99" y="281" width="2" height="2" fill="#00ffcc"/><rect x="101" y="281" width="1" height="2" fill="#00bbff"/><rect x="102" y="281" width="4" height="2" fill="#008bff"/><rect x="106" y="281" width="5" height="2" fill="#00bbff"/><rect x="111" y="281" width="2" height="2" fill="#3300ff"/><rect x="113" y="281" width="1" height="2" fill="#00bbff"/><rect x="114" y="281" width="4" height="2" fill="#0044ff"/><rect x="118" y="281" width="2" height="2" fill="#008bff"/><rect x="120" y="281" width="1" height="2" fill="#6300ff"/><rect x="121" y="281" width="2" height="2" fill="#0044ff"/><rect x="123" y="281" width="3" height="2" fill="#0014ff"/><rect x="126" y="281" width="2" height="2" fill="#3300ff"/><rect x="128" y="281" width="2" height="2" fill="#0044ff"/><rect x="130" y="281" width="2" height="2" fill="#3300ff"/><rect x="132" y="281" width="1" height="2" fill="#0014ff"/><rect x="133" y="281" width="4" height="2" fill="#6300ff"/><rect x="137" y="281" width="2" height="2" fill="#3300ff"/><rect x="139" y="281" width="1" height="2" fill="#6300ff"/><rect x="140" y="281" width="2" height="2" fill="#3300ff"/><rect x="142" y="281" width="2" height="2" fill="#0014ff"/><rect x="144" y="281" width="1" height="2" fill="#6300ff"/><rect x="147" y="281" width="4" height="2" fill="#6300ff"/><rect x="151" y="281" width="1" height="2" fill="#0014ff"/><rect x="152" y="281" width="2" height="2" fill="#6300ff"/><rect x="154" y="281" width="2" height="2" fill="#0044ff"/><rect x="156" y="281" width="1" height="2" fill="#6300ff"/><rect x="157" y="281" width="2" height="2" fill="#3300ff"/><rect x="159" y="281" width="2" height="2" fill="#0014ff"/><rect x="161" y="281" width="3" height="2" fill="#6300ff"/><rect x="164" y="281" width="2" height="2" fill="#3300ff"/><rect x="166" y="281" width="2" height="2" fill="#0014ff"/><rect x="168" y="281" width="2" height="2" fill="#3300ff"/><rect x="170" y="281" width="1" height="2" fill="#0044ff"/><rect x="173" y="281" width="2" height="2" fill="#6300ff"/><rect x="175" y="281" width="1" height="2" fill="#3300ff"/><rect x="176" y="281" width="2" height="2" fill="#6300ff"/><rect x="178" y="281" width="2" height="2" fill="#3300ff"/><rect x="90" y="276" width="4" height="3" fill="#00fffc"/><rect x="94" y="276" width="2" height="3" fill="#00ff0e"/><rect x="96" y="276" width="1" height="3" fill="#00ffcc"/><rect x="97" y="276" width="2" height="3" fill="#0044ff"/><rect x="90" y="272" width="4" height="2" fill="#00fffc"/><rect x="94" y="272" width="2" height="2" fill="#00ff0e"/><rect x="96" y="272" width="1" height="2" fill="#0044ff"/><rect x="97" y="272" width="2" height="2" fill="#3300ff"/><rect x="90" y="265" width="4" height="3" fill="#00fffc"/><rect x="94" y="265" width="2" height="3" fill="#00ff0e"/><rect x="96" y="265" width="1" height="3" fill="#00ffcc"/><rect x="97" y="265" width="2" height="3" fill="#0014ff"/><rect x="90" y="261" width="4" height="2" fill="#00fffc"/><rect x="94" y="261" width="2" height="2" fill="#00ff55"/><rect x="96" y="261" width="1" height="2" fill="#00bbff"/><rect x="97" y="261" width="2" height="2" fill="#3300ff"/><rect x="90" y="257" width="4" height="2" fill="#00fffc"/><rect x="94" y="257" width="2" height="2" fill="#00ff55"/><rect x="96" y="257" width="1" height="2" fill="#00ffcc"/><rect x="97" y="257" width="2" height="2" fill="#6300ff"/><rect x="90" y="252" width="4" height="3" fill="#00fffc"/><rect x="94" y="252" width="2" height="3" fill="#00ffcc"/><rect x="96" y="252" width="1" height="3" fill="#0044ff"/><rect x="90" y="246" width="4" height="2" fill="#00bbff"/><rect x="94" y="246" width="2" height="2" fill="#00ff85"/><rect x="90" y="241" width="4" height="3" fill="#008bff"/><rect x="94" y="241" width="2" height="3" fill="#00ffcc"/><rect x="90" y="237" width="4" height="2" fill="#00fffc"/><rect x="94" y="237" width="2" height="2" fill="#00ff85"/><rect x="90" y="233" width="4" height="2" fill="#008bff"/><rect x="94" y="233" width="2" height="2" fill="#00ffcc"/><rect x="90" y="226" width="4" height="2" fill="#0044ff"/><rect x="94" y="226" width="2" height="2" fill="#00ffcc"/><rect x="90" y="222" width="6" height="2" fill="#00bbff"/><rect x="90" y="217" width="4" height="2" fill="#0044ff"/><rect x="94" y="217" width="2" height="2" fill="#00fffc"/><rect x="90" y="213" width="4" height="2" fill="#0044ff"/><rect x="94" y="213" width="2" height="2" fill="#00bbff"/><rect x="90" y="207" width="4" height="2" fill="#0044ff"/><rect x="94" y="207" width="2" height="2" fill="#00bbff"/><rect x="90" y="202" width="4" height="2" fill="#0044ff"/><rect x="94" y="202" width="2" height="2" fill="#00bbff"/><rect x="90" y="198" width="4" height="2" fill="#0014ff"/><rect x="94" y="198" width="2" height="2" fill="#0044ff"/><rect x="90" y="193" width="6" height="3" fill="#0044ff"/><rect x="90" y="187" width="4" height="2" fill="#3300ff"/><rect x="94" y="187" width="2" height="2" fill="#0044ff"/><rect x="90" y="183" width="4" height="2" fill="#3300ff"/><rect x="94" y="183" width="2" height="2" fill="#0044ff"/><rect x="94" y="178" width="2" height="2" fill="#008bff"/><rect x="90" y="174" width="6" height="2" fill="#3300ff"/><rect x="90" y="167" width="4" height="2" fill="#3300ff"/><rect x="94" y="167" width="2" height="2" fill="#0014ff"/><rect x="90" y="163" width="4" height="2" fill="#3300ff"/><rect x="94" y="163" width="2" height="2" fill="#0014ff"/><rect x="90" y="158" width="4" height="2" fill="#0014ff"/><rect x="94" y="158" width="2" height="2" fill="#3300ff"/><rect x="90" y="154" width="6" height="2" fill="#3300ff"/><rect x="90" y="148" width="4" height="2" fill="#6300ff"/><rect x="90" y="143" width="4" height="2" fill="#6300ff"/><rect x="94" y="143" width="2" height="2" fill="#0014ff"/><rect x="94" y="139" width="2" height="2" fill="#0014ff"/><rect x="90" y="134" width="6" height="3" fill="#3300ff"/><rect x="90" y="128" width="6" height="2" fill="#6300ff"/><rect x="94" y="124" width="2" height="2" fill="#6300ff"/><rect x="90" y="108" width="4" height="2" fill="#0014ff"/></g><g shape-rendering="crispEdges" fill="#000"><rect x="90" y="51" width="2" height="395"/><rect x="90" y="445" width="518" height="1"/><rect x="90" y="432" width="1" height="13"/><rect x="108" y="438" width="1" height="7"/><rect x="125" y="438" width="1" height="7"/><rect x="142" y="438" width="1" height="7"/><rect x="159" y="438" width="1" height="7"/><rect x="176" y="432" width="1" height="13"/><rect x="194" y="438" width="1" height="7"/><rect x="211" y="438" width="1" height="7"/><rect x="228" y="438" width="1" height="7"/><rect x="245" y="438" width="1" height="7"/><rect x="262" y="432" width="1" height="13"/><rect x="280" y="438" width="1" height="7"/><rect x="297" y="438" width="1" height="7"/><rect x="314" y="438" width="1" height="7"/><rect x="331" y="438" width="1" height="7"/><rect x="349" y="432" width="1" height="13"/><rect x="366" y="438" width="1" height="7"/><rect x="383" y="438" width="1" height="7"/><rect x="400" y="438" width="1" height="7"/><rect x="417" y="438" width="1" height="7"/><rect x="435" y="432" width="1" height="13"/><rect x="452" y="438" width="1" height="7"/><rect x="469" y="438" width="1" height="7"/><rect x="486" y="438" width="1" height="7"/><rect x="503" y="438" width="1" height="7"/><rect x="521" y="432" width="1" height="13"/><rect x="538" y="438" width="1" height="7"/><rect x="555" y="438" width="1" height="7"/><rect x="572" y="438" width="1" height="7"/><rect x="589" y="438" width="1" height="7"/><rect x="607" y="432" width="1" height="13"/><rect x="607" y="444" width="1" height="2"/><rect x="92" y="445" width="15" height="1"/><rect x="92" y="435" width="7" height="1"/><rect x="92" y="425" width="7" height="1"/><rect x="92" y="415" width="7" height="1"/><rect x="92" y="405" width="7" height="1"/><rect x="92" y="395" width="15" height="1"/><rect x="92" y="386" width="7" height="1"/><rect x="92" y="376" width="7" height="1"/><rect x="92" y="366" width="7" height="1"/><rect x="92" y="356" width="7" height="1"/><rect x="92" y="346" width="15" height="1"/><rect x="92" y="337" width="7" height="1"/><rect x="92" y="327" width="7" height="1"/><rect x="92" y="317" width="7" height="1"/><rect x="92" y="307" width="7" height="1"/><rect x="92" y="297" width="15" height="1"/><rect x="92" y="287" width="7" height="1"/><rect x="92" y="278" width="7" height="1"/><rect x="92" y="268" width="7" height="1"/><rect x="92" y="258" width="7" height="1"/><rect x="92" y="248" width="15" height="1"/><rect x="92" y="238" width="7" height="1"/><rect x="92" y="228" width="7" height="1"/><rect x="92" y="219" width="7" height="1"/><rect x="92" y="209" width="7" height="1"/><rect x="92" y="199" width="15" height="1"/><rect x="92" y="189" width="7" height="1"/><rect x="92" y="179" width="7" height="1"/><rect x="92" y="169" width="7" height="1"/><rect x="92" y="160" width="7" height="1"/><rect x="92" y="150" width="15" height="1"/><rect x="92" y="140" width="7" height="1"/><rect x="92" y="130" width="7" height="1"/><rect x="92" y="120" width="7" height="1"/><rect x="92" y="110" width="7" height="1"/><rect x="92" y="101" width="15" height="1"/><rect x="92" y="91" width="7" height="1"/><rect x="92" y="81" width="7" height="1"/><rect x="92" y="71" width="7" height="1"/><rect x="92" y="61" width="7" height="1"/><rect x="92" y="51" width="15" height="2"/></g><g shape-rendering="crispEdges"><rect x="595" y="422" width="31" height="22" fill="#6300ff"/><rect x="595" y="401" width="31" height="21" fill="#3300ff"/><rect x="595" y="380" width="31" height="21" fill="#0014ff"/><rect x="595" y="359" width="31" height="21" fill="#0044ff"/><rect x="595" y="338" width="31" height="21" fill="#008bff"/><rect x="595" y="316" width="31" height="22" fill="#00bbff"/><rect x="595" y="295" width="31" height="21" fill="#00fffc"/><rect x="595" y="274" width="31" height="21" fill="#00ffcc"/><rect x="595" y="253" width="31" height="21" fill="#00ff85"/><rect x="595" y="232" width="31" height="21" fill="#00ff55"/><rect x="595" y="210" width="31" height="22" fill="#00ff0e"/><rect x="595" y="189" width="31" height="21" fill="#22ff00"/><rect x="595" y="168" width="31" height="21" fill="#69ff00"/><rect x="595" y="147" width="31" height="21" fill="#99ff00"/><rect x="595" y="126" width="31" height="21" fill="#e0ff00"/><rect x="595" y="104" width="31" height="22" fill="#ffee00"/><rect x="595" y="83" width="31" height="21" fill="#ffa700"/><rect x="595" y="62" width="31" height="21" fill="#ff7700"/><rect x="595" y="41" width="31" height="21" fill="#ff3000"/><rect x="595" y="20" width="31" height="21" fill="#ff0000"/></g><g shape-rendering="crispEdges" fill="#000"><rect x="626" y="20" width="1" height="425"/><rect x="609" y="443" width="17" height="1"/><rect x="617" y="409" width="9" height="1"/><rect x="617" y="389" width="9" height="1"/><rect x="617" y="375" width="9" height="1"/><rect x="617" y="364" width="9" height="1"/><rect x="617" y="355" width="9" height="1"/><rect x="617" y="348" width="9" height="1"/><rect x="617" y="341" width="9" height="1"/><rect x="617" y="335" width="9" height="1"/><rect x="609" y="330" width="17" height="1"/><rect x="617" y="296" width="9" height="1"/><rect x="617" y="276" width="9" height="1"/><rect x="617" y="262" width="9" height="1"/><rect x="617" y="251" width="9" height="1"/><rect x="617" y="242" width="9" height="1"/><rect x="617" y="235" width="9" height="1"/><rect x="617" y="228" width="9" height="1"/><rect x="617" y="222" width="9" height="1"/><rect x="609" y="217" width="17" height="1"/><rect x="617" y="183" width="9" height="1"/><rect x="617" y="163" width="9" height="1"/><rect x="617" y="149" width="9" height="1"/><rect x="617" y="138" width="9" height="1"/><rect x="617" y="129" width="9" height="1"/><rect x="617" y="122" width="9" height="1"/><rect x="617" y="115" width="9" height="1"/><rect x="617" y="109" width="9" height="1"/><rect x="609" y="104" width="17" height="1"/><rect x="617" y="70" width="9" height="1"/><rect x="617" y="50" width="9" height="1"/><rect x="617" y="36" width="9" height="1"/><rect x="617" y="25" width="9" height="1"/></g></svg><div class="t" style="left:90.5px;top:449px;width:60px;margin-left:-30px;text-align:center;font-size:20.2px">0</div><div class="t" style="left:176.5px;top:449px;width:60px;margin-left:-30px;text-align:center;font-size:20.2px">5</div><div class="t" style="left:262.5px;top:449px;width:60px;margin-left:-30px;text-align:center;font-size:20.2px">10</div><div class="t" style="left:349.5px;top:449px;width:60px;margin-left:-30px;text-align:center;font-size:20.2px">15</div><div class="t" style="left:435.5px;top:449px;width:60px;margin-left:-30px;text-align:center;font-size:20.2px">20</div><div class="t" style="left:521.5px;top:449px;width:60px;margin-left:-30px;text-align:center;font-size:20.2px">25</div><div class="t" style="left:607.5px;top:449px;width:60px;margin-left:-30px;text-align:center;font-size:20.2px">30</div><div class="t" style="left:24.6px;top:435.0px;width:60px;text-align:right;font-size:20.2px">0</div><div class="t" style="left:24.6px;top:385.0px;width:60px;text-align:right;font-size:20.2px">10</div><div class="t" style="left:24.6px;top:336.0px;width:60px;text-align:right;font-size:20.2px">20</div><div class="t" style="left:24.6px;top:287.0px;width:60px;text-align:right;font-size:20.2px">30</div><div class="t" style="left:24.6px;top:238.0px;width:60px;text-align:right;font-size:20.2px">40</div><div class="t" style="left:24.6px;top:189.0px;width:60px;text-align:right;font-size:20.2px">50</div><div class="t" style="left:24.6px;top:140.0px;width:60px;text-align:right;font-size:20.2px">60</div><div class="t" style="left:24.6px;top:91.0px;width:60px;text-align:right;font-size:20.2px">70</div><div class="t" style="left:24.6px;top:42.0px;width:60px;text-align:right;font-size:20.2px">80</div><div class="t" id="xt" style="left:249.3px;top:472.2px;width:200px;text-align:center;font-size:30.3px">p [GeV/c]</div><div class="t" id="yt" style="left:-73.5px;top:229.5px;width:200px;text-align:center;font-size:30.3px;transform:rotate(-90deg);transform-origin:50% 50%">sttHits</div><div class="t p" style="left:633px;top:94.3px;font-size:16.5px">10<span class="e">3</span></div><div class="t p" style="left:633px;top:207.3px;font-size:16.5px">10<span class="e">2</span></div><div class="t p" style="left:633px;top:318.8px;font-size:16.5px">10</div><div class="t p" style="left:633px;top:431.7px;font-size:16.5px">1</div></div></body></html>
